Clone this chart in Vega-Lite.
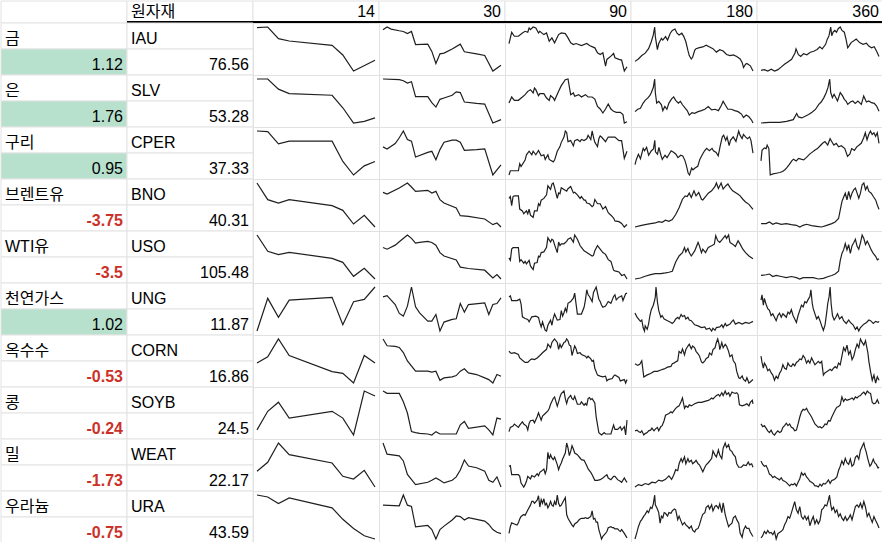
{
  "$schema": "https://vega.github.io/schema/vega-lite/v6.json",
  "padding": 0,
  "spacing": 0,
  "bounds": "flush",
  "config": {
    "view": {"stroke": "#e2e2e2"},
    "font": "Liberation Sans, Noto Sans CJK KR, sans-serif",
    "text": {"font": "Liberation Sans, Noto Sans CJK KR, sans-serif", "fontSize": 16}
  },
  "datasets": {
    "header": [
      {"col": "A", "label": ""},
      {"col": "B", "label": "원자재"},
      {"col": "14", "label": "14"},
      {"col": "30", "label": "30"},
      {"col": "90", "label": "90"},
      {"col": "180", "label": "180"},
      {"col": "360", "label": "360"}
    ],
    "table": [
      {"r": 1, "kind": "label", "A": "금", "B": "IAU"},
      {"r": 2, "kind": "value", "A": "1.12", "B": "76.56", "chg": 1.12},
      {"r": 3, "kind": "label", "A": "은", "B": "SLV"},
      {"r": 4, "kind": "value", "A": "1.76", "B": "53.28", "chg": 1.76},
      {"r": 5, "kind": "label", "A": "구리", "B": "CPER"},
      {"r": 6, "kind": "value", "A": "0.95", "B": "37.33", "chg": 0.95},
      {"r": 7, "kind": "label", "A": "브렌트유", "B": "BNO"},
      {"r": 8, "kind": "value", "A": "-3.75", "B": "40.31", "chg": -3.75},
      {"r": 9, "kind": "label", "A": "WTI유", "B": "USO"},
      {"r": 10, "kind": "value", "A": "-3.5", "B": "105.48", "chg": -3.5},
      {"r": 11, "kind": "label", "A": "천연가스", "B": "UNG"},
      {"r": 12, "kind": "value", "A": "1.02", "B": "11.87", "chg": 1.02},
      {"r": 13, "kind": "label", "A": "옥수수", "B": "CORN"},
      {"r": 14, "kind": "value", "A": "-0.53", "B": "16.86", "chg": -0.53},
      {"r": 15, "kind": "label", "A": "콩", "B": "SOYB"},
      {"r": 16, "kind": "value", "A": "-0.24", "B": "24.5", "chg": -0.24},
      {"r": 17, "kind": "label", "A": "밀", "B": "WEAT"},
      {"r": 18, "kind": "value", "A": "-1.73", "B": "22.17", "chg": -1.73},
      {"r": 19, "kind": "label", "A": "우라늄", "B": "URA"},
      {"r": 20, "kind": "value", "A": "-0.75", "B": "43.59", "chg": -0.75}
    ],
    "spark": [
      {"c":"IAU","p":14,"t":0,"v":135},{"c":"IAU","p":14,"t":1,"v":137},{"c":"IAU","p":14,"t":2,"v":102},{"c":"IAU","p":14,"t":3,"v":95},{"c":"IAU","p":14,"t":7,"v":82},{"c":"IAU","p":14,"t":8,"v":53},{"c":"IAU","p":14,"t":9,"v":5},{"c":"IAU","p":14,"t":11,"v":37},
      {"c":"IAU","p":30,"t":0,"v":128},{"c":"IAU","p":30,"t":1,"v":136},{"c":"IAU","p":30,"t":2,"v":130},{"c":"IAU","p":30,"t":4,"v":125},{"c":"IAU","p":30,"t":5,"v":123},{"c":"IAU","p":30,"t":6,"v":117},{"c":"IAU","p":30,"t":7,"v":123},{"c":"IAU","p":30,"t":8,"v":85},{"c":"IAU","p":30,"t":11,"v":86},{"c":"IAU","p":30,"t":12,"v":65},{"c":"IAU","p":30,"t":13,"v":30},{"c":"IAU","p":30,"t":14,"v":58},{"c":"IAU","p":30,"t":15,"v":60},{"c":"IAU","p":30,"t":17,"v":72},{"c":"IAU","p":30,"t":19,"v":86},{"c":"IAU","p":30,"t":20,"v":64},{"c":"IAU","p":30,"t":23,"v":58},{"c":"IAU","p":30,"t":25,"v":53},{"c":"IAU","p":30,"t":27,"v":8},{"c":"IAU","p":30,"t":29,"v":25},
      {"c":"IAU","p":90,"t":0,"v":88},{"c":"IAU","p":90,"t":2,"v":122},{"c":"IAU","p":90,"t":4,"v":110},{"c":"IAU","p":90,"t":7,"v":110},{"c":"IAU","p":90,"t":10,"v":120},{"c":"IAU","p":90,"t":12,"v":125},{"c":"IAU","p":90,"t":14,"v":122},{"c":"IAU","p":90,"t":15,"v":135},{"c":"IAU","p":90,"t":16,"v":130},{"c":"IAU","p":90,"t":18,"v":138},{"c":"IAU","p":90,"t":20,"v":135},{"c":"IAU","p":90,"t":22,"v":120},{"c":"IAU","p":90,"t":23,"v":125},{"c":"IAU","p":90,"t":26,"v":115},{"c":"IAU","p":90,"t":28,"v":120},{"c":"IAU","p":90,"t":30,"v":95},{"c":"IAU","p":90,"t":32,"v":105},{"c":"IAU","p":90,"t":34,"v":90},{"c":"IAU","p":90,"t":37,"v":115},{"c":"IAU","p":90,"t":39,"v":120},{"c":"IAU","p":90,"t":42,"v":118},{"c":"IAU","p":90,"t":44,"v":105},{"c":"IAU","p":90,"t":46,"v":90},{"c":"IAU","p":90,"t":48,"v":85},{"c":"IAU","p":90,"t":50,"v":88},{"c":"IAU","p":90,"t":54,"v":82},{"c":"IAU","p":90,"t":58,"v":88},{"c":"IAU","p":90,"t":60,"v":82},{"c":"IAU","p":90,"t":64,"v":75},{"c":"IAU","p":90,"t":66,"v":60},{"c":"IAU","p":90,"t":68,"v":55},{"c":"IAU","p":90,"t":70,"v":60},{"c":"IAU","p":90,"t":72,"v":20},{"c":"IAU","p":90,"t":73,"v":40},{"c":"IAU","p":90,"t":76,"v":50},{"c":"IAU","p":90,"t":78,"v":58},{"c":"IAU","p":90,"t":79,"v":45},{"c":"IAU","p":90,"t":82,"v":40},{"c":"IAU","p":90,"t":84,"v":38},{"c":"IAU","p":90,"t":86,"v":5},{"c":"IAU","p":90,"t":88,"v":18},
      {"c":"IAU","p":180,"t":0,"v":38},{"c":"IAU","p":180,"t":5,"v":45},{"c":"IAU","p":180,"t":10,"v":55},{"c":"IAU","p":180,"t":15,"v":62},{"c":"IAU","p":180,"t":20,"v":75},{"c":"IAU","p":180,"t":24,"v":95},{"c":"IAU","p":180,"t":27,"v":115},{"c":"IAU","p":180,"t":29,"v":138},{"c":"IAU","p":180,"t":30,"v":110},{"c":"IAU","p":180,"t":33,"v":72},{"c":"IAU","p":180,"t":35,"v":90},{"c":"IAU","p":180,"t":39,"v":105},{"c":"IAU","p":180,"t":41,"v":100},{"c":"IAU","p":180,"t":45,"v":110},{"c":"IAU","p":180,"t":48,"v":100},{"c":"IAU","p":180,"t":52,"v":120},{"c":"IAU","p":180,"t":55,"v":128},{"c":"IAU","p":180,"t":59,"v":132},{"c":"IAU","p":180,"t":62,"v":120},{"c":"IAU","p":180,"t":65,"v":115},{"c":"IAU","p":180,"t":69,"v":120},{"c":"IAU","p":180,"t":72,"v":110},{"c":"IAU","p":180,"t":75,"v":95},{"c":"IAU","p":180,"t":78,"v":70},{"c":"IAU","p":180,"t":80,"v":55},{"c":"IAU","p":180,"t":83,"v":45},{"c":"IAU","p":180,"t":85,"v":50},{"c":"IAU","p":180,"t":88,"v":70},{"c":"IAU","p":180,"t":90,"v":75},{"c":"IAU","p":180,"t":95,"v":78},{"c":"IAU","p":180,"t":100,"v":80},{"c":"IAU","p":180,"t":105,"v":85},{"c":"IAU","p":180,"t":110,"v":80},{"c":"IAU","p":180,"t":115,"v":75},{"c":"IAU","p":180,"t":120,"v":65},{"c":"IAU","p":180,"t":125,"v":72},{"c":"IAU","p":180,"t":130,"v":68},{"c":"IAU","p":180,"t":135,"v":58},{"c":"IAU","p":180,"t":140,"v":55},{"c":"IAU","p":180,"t":145,"v":57},{"c":"IAU","p":180,"t":150,"v":52},{"c":"IAU","p":180,"t":155,"v":45},{"c":"IAU","p":180,"t":158,"v":35},{"c":"IAU","p":180,"t":160,"v":20},{"c":"IAU","p":180,"t":163,"v":30},{"c":"IAU","p":180,"t":165,"v":32},{"c":"IAU","p":180,"t":170,"v":25},{"c":"IAU","p":180,"t":174,"v":10},
      {"c":"IAU","p":360,"t":0,"v":10},{"c":"IAU","p":360,"t":10,"v":12},{"c":"IAU","p":360,"t":20,"v":8},{"c":"IAU","p":360,"t":30,"v":13},{"c":"IAU","p":360,"t":40,"v":8},{"c":"IAU","p":360,"t":50,"v":12},{"c":"IAU","p":360,"t":60,"v":20},{"c":"IAU","p":360,"t":70,"v":28},{"c":"IAU","p":360,"t":80,"v":35},{"c":"IAU","p":360,"t":90,"v":42},{"c":"IAU","p":360,"t":100,"v":60},{"c":"IAU","p":360,"t":103,"v":72},{"c":"IAU","p":360,"t":110,"v":55},{"c":"IAU","p":360,"t":117,"v":50},{"c":"IAU","p":360,"t":125,"v":58},{"c":"IAU","p":360,"t":135,"v":55},{"c":"IAU","p":360,"t":145,"v":62},{"c":"IAU","p":360,"t":155,"v":65},{"c":"IAU","p":360,"t":165,"v":70},{"c":"IAU","p":360,"t":173,"v":78},{"c":"IAU","p":360,"t":180,"v":72},{"c":"IAU","p":360,"t":190,"v":85},{"c":"IAU","p":360,"t":195,"v":100},{"c":"IAU","p":360,"t":200,"v":110},{"c":"IAU","p":360,"t":205,"v":135},{"c":"IAU","p":360,"t":208,"v":110},{"c":"IAU","p":360,"t":212,"v":120},{"c":"IAU","p":360,"t":217,"v":125},{"c":"IAU","p":360,"t":222,"v":120},{"c":"IAU","p":360,"t":227,"v":130},{"c":"IAU","p":360,"t":233,"v":135},{"c":"IAU","p":360,"t":238,"v":125},{"c":"IAU","p":360,"t":245,"v":120},{"c":"IAU","p":360,"t":250,"v":100},{"c":"IAU","p":360,"t":255,"v":75},{"c":"IAU","p":360,"t":260,"v":82},{"c":"IAU","p":360,"t":265,"v":90},{"c":"IAU","p":360,"t":273,"v":95},{"c":"IAU","p":360,"t":280,"v":100},{"c":"IAU","p":360,"t":290,"v":90},{"c":"IAU","p":360,"t":300,"v":85},{"c":"IAU","p":360,"t":310,"v":88},{"c":"IAU","p":360,"t":317,"v":80},{"c":"IAU","p":360,"t":325,"v":75},{"c":"IAU","p":360,"t":333,"v":78},{"c":"IAU","p":360,"t":340,"v":65},{"c":"IAU","p":360,"t":347,"v":50},

      {"c":"SLV","p":14,"t":0,"v":136},{"c":"SLV","p":14,"t":1,"v":136},{"c":"SLV","p":14,"t":2,"v":106},{"c":"SLV","p":14,"t":3,"v":93},{"c":"SLV","p":14,"t":7,"v":88},{"c":"SLV","p":14,"t":8,"v":51},{"c":"SLV","p":14,"t":9,"v":6},{"c":"SLV","p":14,"t":10,"v":11},{"c":"SLV","p":14,"t":11,"v":21},
      {"c":"SLV","p":30,"t":0,"v":136},{"c":"SLV","p":30,"t":4,"v":134},{"c":"SLV","p":30,"t":5,"v":131},{"c":"SLV","p":30,"t":6,"v":124},{"c":"SLV","p":30,"t":7,"v":128},{"c":"SLV","p":30,"t":8,"v":84},{"c":"SLV","p":30,"t":11,"v":84},{"c":"SLV","p":30,"t":12,"v":66},{"c":"SLV","p":30,"t":13,"v":53},{"c":"SLV","p":30,"t":14,"v":76},{"c":"SLV","p":30,"t":15,"v":80},{"c":"SLV","p":30,"t":17,"v":88},{"c":"SLV","p":30,"t":18,"v":98},{"c":"SLV","p":30,"t":19,"v":96},{"c":"SLV","p":30,"t":20,"v":68},{"c":"SLV","p":30,"t":23,"v":64},{"c":"SLV","p":30,"t":25,"v":62},{"c":"SLV","p":30,"t":27,"v":6},{"c":"SLV","p":30,"t":29,"v":16},
      {"c":"SLV","p":90,"t":0,"v":66},{"c":"SLV","p":90,"t":2,"v":84},{"c":"SLV","p":90,"t":4,"v":74},{"c":"SLV","p":90,"t":7,"v":74},{"c":"SLV","p":90,"t":10,"v":84},{"c":"SLV","p":90,"t":12,"v":91},{"c":"SLV","p":90,"t":14,"v":101},{"c":"SLV","p":90,"t":16,"v":106},{"c":"SLV","p":90,"t":18,"v":96},{"c":"SLV","p":90,"t":19,"v":111},{"c":"SLV","p":90,"t":20,"v":106},{"c":"SLV","p":90,"t":22,"v":88},{"c":"SLV","p":90,"t":23,"v":94},{"c":"SLV","p":90,"t":26,"v":94},{"c":"SLV","p":90,"t":28,"v":81},{"c":"SLV","p":90,"t":30,"v":74},{"c":"SLV","p":90,"t":31,"v":88},{"c":"SLV","p":90,"t":33,"v":81},{"c":"SLV","p":90,"t":34,"v":74},{"c":"SLV","p":90,"t":37,"v":101},{"c":"SLV","p":90,"t":39,"v":118},{"c":"SLV","p":90,"t":42,"v":136},{"c":"SLV","p":90,"t":44,"v":138},{"c":"SLV","p":90,"t":46,"v":91},{"c":"SLV","p":90,"t":48,"v":96},{"c":"SLV","p":90,"t":49,"v":86},{"c":"SLV","p":90,"t":52,"v":91},{"c":"SLV","p":90,"t":54,"v":84},{"c":"SLV","p":90,"t":57,"v":91},{"c":"SLV","p":90,"t":59,"v":84},{"c":"SLV","p":90,"t":62,"v":84},{"c":"SLV","p":90,"t":64,"v":78},{"c":"SLV","p":90,"t":66,"v":56},{"c":"SLV","p":90,"t":68,"v":48},{"c":"SLV","p":90,"t":70,"v":36},{"c":"SLV","p":90,"t":72,"v":48},{"c":"SLV","p":90,"t":74,"v":63},{"c":"SLV","p":90,"t":76,"v":48},{"c":"SLV","p":90,"t":78,"v":41},{"c":"SLV","p":90,"t":80,"v":38},{"c":"SLV","p":90,"t":83,"v":38},{"c":"SLV","p":90,"t":85,"v":31},{"c":"SLV","p":90,"t":86,"v":6},{"c":"SLV","p":90,"t":88,"v":10},
      {"c":"SLV","p":180,"t":0,"v":41},{"c":"SLV","p":180,"t":4,"v":48},{"c":"SLV","p":180,"t":8,"v":51},{"c":"SLV","p":180,"t":12,"v":66},{"c":"SLV","p":180,"t":15,"v":74},{"c":"SLV","p":180,"t":19,"v":81},{"c":"SLV","p":180,"t":22,"v":88},{"c":"SLV","p":180,"t":24,"v":96},{"c":"SLV","p":180,"t":27,"v":111},{"c":"SLV","p":180,"t":29,"v":136},{"c":"SLV","p":180,"t":30,"v":96},{"c":"SLV","p":180,"t":32,"v":66},{"c":"SLV","p":180,"t":35,"v":71},{"c":"SLV","p":180,"t":39,"v":61},{"c":"SLV","p":180,"t":41,"v":44},{"c":"SLV","p":180,"t":44,"v":56},{"c":"SLV","p":180,"t":47,"v":48},{"c":"SLV","p":180,"t":50,"v":66},{"c":"SLV","p":180,"t":54,"v":78},{"c":"SLV","p":180,"t":57,"v":84},{"c":"SLV","p":180,"t":60,"v":74},{"c":"SLV","p":180,"t":64,"v":66},{"c":"SLV","p":180,"t":67,"v":71},{"c":"SLV","p":180,"t":70,"v":61},{"c":"SLV","p":180,"t":74,"v":51},{"c":"SLV","p":180,"t":77,"v":44},{"c":"SLV","p":180,"t":80,"v":31},{"c":"SLV","p":180,"t":84,"v":38},{"c":"SLV","p":180,"t":88,"v":36},{"c":"SLV","p":180,"t":93,"v":41},{"c":"SLV","p":180,"t":98,"v":44},{"c":"SLV","p":180,"t":103,"v":48},{"c":"SLV","p":180,"t":108,"v":56},{"c":"SLV","p":180,"t":113,"v":46},{"c":"SLV","p":180,"t":118,"v":48},{"c":"SLV","p":180,"t":123,"v":44},{"c":"SLV","p":180,"t":127,"v":58},{"c":"SLV","p":180,"t":130,"v":71},{"c":"SLV","p":180,"t":133,"v":61},{"c":"SLV","p":180,"t":137,"v":48},{"c":"SLV","p":180,"t":142,"v":48},{"c":"SLV","p":180,"t":147,"v":44},{"c":"SLV","p":180,"t":152,"v":41},{"c":"SLV","p":180,"t":157,"v":34},{"c":"SLV","p":180,"t":160,"v":24},{"c":"SLV","p":180,"t":164,"v":31},{"c":"SLV","p":180,"t":168,"v":26},{"c":"SLV","p":180,"t":172,"v":16},{"c":"SLV","p":180,"t":174,"v":8},
      {"c":"SLV","p":360,"t":0,"v":6},{"c":"SLV","p":360,"t":25,"v":8},{"c":"SLV","p":360,"t":55,"v":8},{"c":"SLV","p":360,"t":75,"v":11},{"c":"SLV","p":360,"t":95,"v":16},{"c":"SLV","p":360,"t":105,"v":34},{"c":"SLV","p":360,"t":110,"v":24},{"c":"SLV","p":360,"t":120,"v":21},{"c":"SLV","p":360,"t":130,"v":26},{"c":"SLV","p":360,"t":140,"v":31},{"c":"SLV","p":360,"t":150,"v":38},{"c":"SLV","p":360,"t":160,"v":46},{"c":"SLV","p":360,"t":170,"v":61},{"c":"SLV","p":360,"t":177,"v":68},{"c":"SLV","p":360,"t":185,"v":81},{"c":"SLV","p":360,"t":192,"v":96},{"c":"SLV","p":360,"t":197,"v":111},{"c":"SLV","p":360,"t":202,"v":136},{"c":"SLV","p":360,"t":205,"v":96},{"c":"SLV","p":360,"t":210,"v":81},{"c":"SLV","p":360,"t":215,"v":91},{"c":"SLV","p":360,"t":225,"v":71},{"c":"SLV","p":360,"t":233,"v":96},{"c":"SLV","p":360,"t":240,"v":86},{"c":"SLV","p":360,"t":245,"v":76},{"c":"SLV","p":360,"t":250,"v":71},{"c":"SLV","p":360,"t":255,"v":61},{"c":"SLV","p":360,"t":263,"v":68},{"c":"SLV","p":360,"t":270,"v":71},{"c":"SLV","p":360,"t":277,"v":64},{"c":"SLV","p":360,"t":285,"v":71},{"c":"SLV","p":360,"t":295,"v":61},{"c":"SLV","p":360,"t":302,"v":86},{"c":"SLV","p":360,"t":310,"v":68},{"c":"SLV","p":360,"t":317,"v":71},{"c":"SLV","p":360,"t":325,"v":66},{"c":"SLV","p":360,"t":333,"v":64},{"c":"SLV","p":360,"t":340,"v":56},{"c":"SLV","p":360,"t":347,"v":41},

      {"c":"CPER","p":14,"t":0,"v":137},{"c":"CPER","p":14,"t":1,"v":135},{"c":"CPER","p":14,"t":2,"v":99},{"c":"CPER","p":14,"t":3,"v":107},{"c":"CPER","p":14,"t":7,"v":107},{"c":"CPER","p":14,"t":8,"v":47},{"c":"CPER","p":14,"t":9,"v":7},{"c":"CPER","p":14,"t":10,"v":34},{"c":"CPER","p":14,"t":11,"v":47},
      {"c":"CPER","p":30,"t":0,"v":90},{"c":"CPER","p":30,"t":1,"v":84},{"c":"CPER","p":30,"t":3,"v":100},{"c":"CPER","p":30,"t":4,"v":117},{"c":"CPER","p":30,"t":5,"v":137},{"c":"CPER","p":30,"t":6,"v":112},{"c":"CPER","p":30,"t":7,"v":107},{"c":"CPER","p":30,"t":8,"v":60},{"c":"CPER","p":30,"t":11,"v":74},{"c":"CPER","p":30,"t":12,"v":77},{"c":"CPER","p":30,"t":13,"v":52},{"c":"CPER","p":30,"t":14,"v":82},{"c":"CPER","p":30,"t":15,"v":104},{"c":"CPER","p":30,"t":17,"v":110},{"c":"CPER","p":30,"t":18,"v":110},{"c":"CPER","p":30,"t":19,"v":104},{"c":"CPER","p":30,"t":20,"v":80},{"c":"CPER","p":30,"t":23,"v":82},{"c":"CPER","p":30,"t":25,"v":84},{"c":"CPER","p":30,"t":27,"v":7},{"c":"CPER","p":30,"t":29,"v":37},
      {"c":"CPER","p":90,"t":0,"v":10},{"c":"CPER","p":90,"t":1,"v":22},{"c":"CPER","p":90,"t":7,"v":22},{"c":"CPER","p":90,"t":8,"v":42},{"c":"CPER","p":90,"t":9,"v":34},{"c":"CPER","p":90,"t":12,"v":52},{"c":"CPER","p":90,"t":13,"v":67},{"c":"CPER","p":90,"t":15,"v":77},{"c":"CPER","p":90,"t":17,"v":67},{"c":"CPER","p":90,"t":18,"v":77},{"c":"CPER","p":90,"t":19,"v":72},{"c":"CPER","p":90,"t":20,"v":67},{"c":"CPER","p":90,"t":22,"v":79},{"c":"CPER","p":90,"t":24,"v":64},{"c":"CPER","p":90,"t":26,"v":67},{"c":"CPER","p":90,"t":27,"v":54},{"c":"CPER","p":90,"t":29,"v":67},{"c":"CPER","p":90,"t":30,"v":54},{"c":"CPER","p":90,"t":33,"v":47},{"c":"CPER","p":90,"t":34,"v":52},{"c":"CPER","p":90,"t":36,"v":77},{"c":"CPER","p":90,"t":38,"v":90},{"c":"CPER","p":90,"t":39,"v":102},{"c":"CPER","p":90,"t":41,"v":117},{"c":"CPER","p":90,"t":42,"v":134},{"c":"CPER","p":90,"t":43,"v":130},{"c":"CPER","p":90,"t":44,"v":104},{"c":"CPER","p":90,"t":46,"v":107},{"c":"CPER","p":90,"t":48,"v":92},{"c":"CPER","p":90,"t":49,"v":107},{"c":"CPER","p":90,"t":51,"v":110},{"c":"CPER","p":90,"t":53,"v":104},{"c":"CPER","p":90,"t":54,"v":110},{"c":"CPER","p":90,"t":56,"v":107},{"c":"CPER","p":90,"t":58,"v":112},{"c":"CPER","p":90,"t":59,"v":122},{"c":"CPER","p":90,"t":61,"v":110},{"c":"CPER","p":90,"t":62,"v":134},{"c":"CPER","p":90,"t":63,"v":117},{"c":"CPER","p":90,"t":64,"v":102},{"c":"CPER","p":90,"t":66,"v":90},{"c":"CPER","p":90,"t":67,"v":112},{"c":"CPER","p":90,"t":68,"v":120},{"c":"CPER","p":90,"t":69,"v":117},{"c":"CPER","p":90,"t":72,"v":104},{"c":"CPER","p":90,"t":74,"v":117},{"c":"CPER","p":90,"t":77,"v":117},{"c":"CPER","p":90,"t":79,"v":117},{"c":"CPER","p":90,"t":82,"v":107},{"c":"CPER","p":90,"t":84,"v":107},{"c":"CPER","p":90,"t":86,"v":57},{"c":"CPER","p":90,"t":88,"v":77},
      {"c":"CPER","p":180,"t":0,"v":37},{"c":"CPER","p":180,"t":2,"v":52},{"c":"CPER","p":180,"t":5,"v":67},{"c":"CPER","p":180,"t":8,"v":54},{"c":"CPER","p":180,"t":12,"v":84},{"c":"CPER","p":180,"t":14,"v":77},{"c":"CPER","p":180,"t":17,"v":87},{"c":"CPER","p":180,"t":20,"v":64},{"c":"CPER","p":180,"t":24,"v":77},{"c":"CPER","p":180,"t":27,"v":82},{"c":"CPER","p":180,"t":29,"v":107},{"c":"CPER","p":180,"t":30,"v":74},{"c":"CPER","p":180,"t":33,"v":67},{"c":"CPER","p":180,"t":35,"v":87},{"c":"CPER","p":180,"t":38,"v":64},{"c":"CPER","p":180,"t":40,"v":52},{"c":"CPER","p":180,"t":44,"v":64},{"c":"CPER","p":180,"t":47,"v":57},{"c":"CPER","p":180,"t":50,"v":67},{"c":"CPER","p":180,"t":53,"v":77},{"c":"CPER","p":180,"t":57,"v":72},{"c":"CPER","p":180,"t":60,"v":67},{"c":"CPER","p":180,"t":63,"v":57},{"c":"CPER","p":180,"t":67,"v":64},{"c":"CPER","p":180,"t":70,"v":62},{"c":"CPER","p":180,"t":73,"v":50},{"c":"CPER","p":180,"t":75,"v":37},{"c":"CPER","p":180,"t":78,"v":12},{"c":"CPER","p":180,"t":80,"v":7},{"c":"CPER","p":180,"t":83,"v":27},{"c":"CPER","p":180,"t":85,"v":22},{"c":"CPER","p":180,"t":88,"v":27},{"c":"CPER","p":180,"t":92,"v":32},{"c":"CPER","p":180,"t":95,"v":52},{"c":"CPER","p":180,"t":99,"v":67},{"c":"CPER","p":180,"t":102,"v":77},{"c":"CPER","p":180,"t":105,"v":84},{"c":"CPER","p":180,"t":109,"v":77},{"c":"CPER","p":180,"t":113,"v":84},{"c":"CPER","p":180,"t":115,"v":77},{"c":"CPER","p":180,"t":119,"v":72},{"c":"CPER","p":180,"t":122,"v":62},{"c":"CPER","p":180,"t":125,"v":92},{"c":"CPER","p":180,"t":128,"v":117},{"c":"CPER","p":180,"t":130,"v":122},{"c":"CPER","p":180,"t":133,"v":107},{"c":"CPER","p":180,"t":135,"v":117},{"c":"CPER","p":180,"t":138,"v":92},{"c":"CPER","p":180,"t":140,"v":107},{"c":"CPER","p":180,"t":144,"v":117},{"c":"CPER","p":180,"t":148,"v":104},{"c":"CPER","p":180,"t":152,"v":134},{"c":"CPER","p":180,"t":154,"v":122},{"c":"CPER","p":180,"t":157,"v":112},{"c":"CPER","p":180,"t":159,"v":124},{"c":"CPER","p":180,"t":162,"v":117},{"c":"CPER","p":180,"t":165,"v":112},{"c":"CPER","p":180,"t":168,"v":117},{"c":"CPER","p":180,"t":170,"v":107},{"c":"CPER","p":180,"t":173,"v":70},
      {"c":"CPER","p":360,"t":0,"v":47},{"c":"CPER","p":360,"t":3,"v":77},{"c":"CPER","p":360,"t":10,"v":84},{"c":"CPER","p":360,"t":15,"v":82},{"c":"CPER","p":360,"t":18,"v":92},{"c":"CPER","p":360,"t":23,"v":82},{"c":"CPER","p":360,"t":27,"v":7},{"c":"CPER","p":360,"t":35,"v":10},{"c":"CPER","p":360,"t":45,"v":12},{"c":"CPER","p":360,"t":55,"v":14},{"c":"CPER","p":360,"t":63,"v":17},{"c":"CPER","p":360,"t":70,"v":22},{"c":"CPER","p":360,"t":75,"v":27},{"c":"CPER","p":360,"t":83,"v":37},{"c":"CPER","p":360,"t":90,"v":47},{"c":"CPER","p":360,"t":95,"v":52},{"c":"CPER","p":360,"t":103,"v":47},{"c":"CPER","p":360,"t":110,"v":54},{"c":"CPER","p":360,"t":117,"v":52},{"c":"CPER","p":360,"t":125,"v":50},{"c":"CPER","p":360,"t":133,"v":57},{"c":"CPER","p":360,"t":143,"v":67},{"c":"CPER","p":360,"t":150,"v":72},{"c":"CPER","p":360,"t":157,"v":77},{"c":"CPER","p":360,"t":165,"v":82},{"c":"CPER","p":360,"t":173,"v":90},{"c":"CPER","p":360,"t":180,"v":97},{"c":"CPER","p":360,"t":187,"v":102},{"c":"CPER","p":360,"t":195,"v":92},{"c":"CPER","p":360,"t":202,"v":110},{"c":"CPER","p":360,"t":208,"v":100},{"c":"CPER","p":360,"t":213,"v":92},{"c":"CPER","p":360,"t":220,"v":97},{"c":"CPER","p":360,"t":227,"v":87},{"c":"CPER","p":360,"t":235,"v":90},{"c":"CPER","p":360,"t":245,"v":82},{"c":"CPER","p":360,"t":253,"v":60},{"c":"CPER","p":360,"t":260,"v":67},{"c":"CPER","p":360,"t":265,"v":82},{"c":"CPER","p":360,"t":273,"v":77},{"c":"CPER","p":360,"t":280,"v":87},{"c":"CPER","p":360,"t":287,"v":92},{"c":"CPER","p":360,"t":293,"v":97},{"c":"CPER","p":360,"t":300,"v":112},{"c":"CPER","p":360,"t":305,"v":127},{"c":"CPER","p":360,"t":310,"v":107},{"c":"CPER","p":360,"t":315,"v":122},{"c":"CPER","p":360,"t":320,"v":132},{"c":"CPER","p":360,"t":325,"v":122},{"c":"CPER","p":360,"t":330,"v":127},{"c":"CPER","p":360,"t":335,"v":117},{"c":"CPER","p":360,"t":340,"v":127},{"c":"CPER","p":360,"t":345,"v":97},

      {"c":"BNO","p":14,"t":0,"v":138},{"c":"BNO","p":14,"t":1,"v":88},{"c":"BNO","p":14,"t":2,"v":78},{"c":"BNO","p":14,"t":3,"v":88},{"c":"BNO","p":14,"t":7,"v":70},{"c":"BNO","p":14,"t":8,"v":56},{"c":"BNO","p":14,"t":9,"v":15},{"c":"BNO","p":14,"t":10,"v":41},{"c":"BNO","p":14,"t":11,"v":6},
      {"c":"BNO","p":30,"t":0,"v":110},{"c":"BNO","p":30,"t":1,"v":105},{"c":"BNO","p":30,"t":4,"v":123},{"c":"BNO","p":30,"t":6,"v":138},{"c":"BNO","p":30,"t":7,"v":126},{"c":"BNO","p":30,"t":8,"v":113},{"c":"BNO","p":30,"t":11,"v":116},{"c":"BNO","p":30,"t":12,"v":108},{"c":"BNO","p":30,"t":13,"v":113},{"c":"BNO","p":30,"t":14,"v":88},{"c":"BNO","p":30,"t":15,"v":78},{"c":"BNO","p":30,"t":18,"v":63},{"c":"BNO","p":30,"t":19,"v":40},{"c":"BNO","p":30,"t":21,"v":38},{"c":"BNO","p":30,"t":25,"v":30},{"c":"BNO","p":30,"t":27,"v":13},{"c":"BNO","p":30,"t":28,"v":18},{"c":"BNO","p":30,"t":29,"v":6},
      {"c":"BNO","p":90,"t":0,"v":93},{"c":"BNO","p":90,"t":1,"v":98},{"c":"BNO","p":90,"t":2,"v":73},{"c":"BNO","p":90,"t":3,"v":98},{"c":"BNO","p":90,"t":4,"v":100},{"c":"BNO","p":90,"t":7,"v":100},{"c":"BNO","p":90,"t":8,"v":63},{"c":"BNO","p":90,"t":10,"v":58},{"c":"BNO","p":90,"t":11,"v":50},{"c":"BNO","p":90,"t":13,"v":58},{"c":"BNO","p":90,"t":14,"v":50},{"c":"BNO","p":90,"t":15,"v":63},{"c":"BNO","p":90,"t":16,"v":46},{"c":"BNO","p":90,"t":18,"v":40},{"c":"BNO","p":90,"t":19,"v":58},{"c":"BNO","p":90,"t":21,"v":58},{"c":"BNO","p":90,"t":22,"v":78},{"c":"BNO","p":90,"t":23,"v":73},{"c":"BNO","p":90,"t":24,"v":88},{"c":"BNO","p":90,"t":26,"v":93},{"c":"BNO","p":90,"t":28,"v":103},{"c":"BNO","p":90,"t":29,"v":128},{"c":"BNO","p":90,"t":31,"v":118},{"c":"BNO","p":90,"t":32,"v":133},{"c":"BNO","p":90,"t":33,"v":136},{"c":"BNO","p":90,"t":34,"v":123},{"c":"BNO","p":90,"t":36,"v":93},{"c":"BNO","p":90,"t":37,"v":108},{"c":"BNO","p":90,"t":38,"v":106},{"c":"BNO","p":90,"t":39,"v":123},{"c":"BNO","p":90,"t":41,"v":118},{"c":"BNO","p":90,"t":43,"v":113},{"c":"BNO","p":90,"t":44,"v":120},{"c":"BNO","p":90,"t":46,"v":126},{"c":"BNO","p":90,"t":48,"v":108},{"c":"BNO","p":90,"t":49,"v":110},{"c":"BNO","p":90,"t":51,"v":103},{"c":"BNO","p":90,"t":53,"v":93},{"c":"BNO","p":90,"t":54,"v":98},{"c":"BNO","p":90,"t":56,"v":88},{"c":"BNO","p":90,"t":57,"v":88},{"c":"BNO","p":90,"t":58,"v":80},{"c":"BNO","p":90,"t":60,"v":78},{"c":"BNO","p":90,"t":62,"v":70},{"c":"BNO","p":90,"t":63,"v":73},{"c":"BNO","p":90,"t":64,"v":90},{"c":"BNO","p":90,"t":66,"v":78},{"c":"BNO","p":90,"t":68,"v":78},{"c":"BNO","p":90,"t":70,"v":63},{"c":"BNO","p":90,"t":72,"v":70},{"c":"BNO","p":90,"t":74,"v":53},{"c":"BNO","p":90,"t":76,"v":46},{"c":"BNO","p":90,"t":78,"v":38},{"c":"BNO","p":90,"t":79,"v":30},{"c":"BNO","p":90,"t":82,"v":28},{"c":"BNO","p":90,"t":84,"v":23},{"c":"BNO","p":90,"t":86,"v":13},{"c":"BNO","p":90,"t":88,"v":20},
      {"c":"BNO","p":180,"t":0,"v":6},{"c":"BNO","p":180,"t":8,"v":10},{"c":"BNO","p":180,"t":15,"v":13},{"c":"BNO","p":180,"t":23,"v":16},{"c":"BNO","p":180,"t":30,"v":18},{"c":"BNO","p":180,"t":35,"v":22},{"c":"BNO","p":180,"t":40,"v":20},{"c":"BNO","p":180,"t":45,"v":26},{"c":"BNO","p":180,"t":50,"v":23},{"c":"BNO","p":180,"t":55,"v":28},{"c":"BNO","p":180,"t":60,"v":43},{"c":"BNO","p":180,"t":65,"v":63},{"c":"BNO","p":180,"t":70,"v":88},{"c":"BNO","p":180,"t":74,"v":98},{"c":"BNO","p":180,"t":77,"v":96},{"c":"BNO","p":180,"t":80,"v":106},{"c":"BNO","p":180,"t":83,"v":93},{"c":"BNO","p":180,"t":87,"v":113},{"c":"BNO","p":180,"t":90,"v":98},{"c":"BNO","p":180,"t":94,"v":108},{"c":"BNO","p":180,"t":98,"v":88},{"c":"BNO","p":180,"t":100,"v":86},{"c":"BNO","p":180,"t":104,"v":96},{"c":"BNO","p":180,"t":108,"v":106},{"c":"BNO","p":180,"t":113,"v":113},{"c":"BNO","p":180,"t":118,"v":126},{"c":"BNO","p":180,"t":120,"v":136},{"c":"BNO","p":180,"t":123,"v":120},{"c":"BNO","p":180,"t":127,"v":136},{"c":"BNO","p":180,"t":130,"v":118},{"c":"BNO","p":180,"t":134,"v":128},{"c":"BNO","p":180,"t":137,"v":133},{"c":"BNO","p":180,"t":140,"v":123},{"c":"BNO","p":180,"t":144,"v":113},{"c":"BNO","p":180,"t":148,"v":108},{"c":"BNO","p":180,"t":152,"v":103},{"c":"BNO","p":180,"t":155,"v":98},{"c":"BNO","p":180,"t":159,"v":88},{"c":"BNO","p":180,"t":163,"v":80},{"c":"BNO","p":180,"t":168,"v":73},{"c":"BNO","p":180,"t":174,"v":58},
      {"c":"BNO","p":360,"t":0,"v":18},{"c":"BNO","p":360,"t":15,"v":18},{"c":"BNO","p":360,"t":25,"v":23},{"c":"BNO","p":360,"t":35,"v":16},{"c":"BNO","p":360,"t":45,"v":20},{"c":"BNO","p":360,"t":60,"v":16},{"c":"BNO","p":360,"t":75,"v":18},{"c":"BNO","p":360,"t":90,"v":15},{"c":"BNO","p":360,"t":105,"v":13},{"c":"BNO","p":360,"t":115,"v":8},{"c":"BNO","p":360,"t":125,"v":13},{"c":"BNO","p":360,"t":135,"v":16},{"c":"BNO","p":360,"t":150,"v":12},{"c":"BNO","p":360,"t":165,"v":10},{"c":"BNO","p":360,"t":180,"v":8},{"c":"BNO","p":360,"t":195,"v":13},{"c":"BNO","p":360,"t":210,"v":18},{"c":"BNO","p":360,"t":220,"v":23},{"c":"BNO","p":360,"t":230,"v":33},{"c":"BNO","p":360,"t":235,"v":58},{"c":"BNO","p":360,"t":240,"v":83},{"c":"BNO","p":360,"t":245,"v":96},{"c":"BNO","p":360,"t":250,"v":108},{"c":"BNO","p":360,"t":255,"v":88},{"c":"BNO","p":360,"t":260,"v":113},{"c":"BNO","p":360,"t":265,"v":93},{"c":"BNO","p":360,"t":270,"v":108},{"c":"BNO","p":360,"t":275,"v":118},{"c":"BNO","p":360,"t":280,"v":123},{"c":"BNO","p":360,"t":285,"v":108},{"c":"BNO","p":360,"t":290,"v":93},{"c":"BNO","p":360,"t":295,"v":108},{"c":"BNO","p":360,"t":300,"v":133},{"c":"BNO","p":360,"t":305,"v":138},{"c":"BNO","p":360,"t":310,"v":118},{"c":"BNO","p":360,"t":315,"v":128},{"c":"BNO","p":360,"t":320,"v":113},{"c":"BNO","p":360,"t":327,"v":108},{"c":"BNO","p":360,"t":333,"v":98},{"c":"BNO","p":360,"t":340,"v":88},{"c":"BNO","p":360,"t":345,"v":73},{"c":"BNO","p":360,"t":350,"v":60},

      {"c":"USO","p":14,"t":0,"v":138},{"c":"USO","p":14,"t":1,"v":89},{"c":"USO","p":14,"t":2,"v":79},{"c":"USO","p":14,"t":3,"v":86},{"c":"USO","p":14,"t":7,"v":68},{"c":"USO","p":14,"t":8,"v":56},{"c":"USO","p":14,"t":9,"v":14},{"c":"USO","p":14,"t":10,"v":38},{"c":"USO","p":14,"t":11,"v":6},
      {"c":"USO","p":30,"t":0,"v":99},{"c":"USO","p":30,"t":1,"v":94},{"c":"USO","p":30,"t":3,"v":106},{"c":"USO","p":30,"t":4,"v":116},{"c":"USO","p":30,"t":6,"v":136},{"c":"USO","p":30,"t":7,"v":126},{"c":"USO","p":30,"t":8,"v":112},{"c":"USO","p":30,"t":9,"v":114},{"c":"USO","p":30,"t":11,"v":117},{"c":"USO","p":30,"t":12,"v":114},{"c":"USO","p":30,"t":13,"v":106},{"c":"USO","p":30,"t":14,"v":84},{"c":"USO","p":30,"t":15,"v":74},{"c":"USO","p":30,"t":18,"v":62},{"c":"USO","p":30,"t":19,"v":41},{"c":"USO","p":30,"t":21,"v":37},{"c":"USO","p":30,"t":25,"v":32},{"c":"USO","p":30,"t":27,"v":9},{"c":"USO","p":30,"t":28,"v":19},{"c":"USO","p":30,"t":29,"v":6},
      {"c":"USO","p":90,"t":0,"v":69},{"c":"USO","p":90,"t":1,"v":62},{"c":"USO","p":90,"t":2,"v":94},{"c":"USO","p":90,"t":3,"v":98},{"c":"USO","p":90,"t":7,"v":98},{"c":"USO","p":90,"t":8,"v":59},{"c":"USO","p":90,"t":9,"v":64},{"c":"USO","p":90,"t":11,"v":54},{"c":"USO","p":90,"t":12,"v":59},{"c":"USO","p":90,"t":13,"v":52},{"c":"USO","p":90,"t":15,"v":62},{"c":"USO","p":90,"t":16,"v":46},{"c":"USO","p":90,"t":18,"v":36},{"c":"USO","p":90,"t":19,"v":54},{"c":"USO","p":90,"t":21,"v":56},{"c":"USO","p":90,"t":22,"v":74},{"c":"USO","p":90,"t":23,"v":72},{"c":"USO","p":90,"t":24,"v":84},{"c":"USO","p":90,"t":26,"v":86},{"c":"USO","p":90,"t":28,"v":99},{"c":"USO","p":90,"t":29,"v":126},{"c":"USO","p":90,"t":31,"v":114},{"c":"USO","p":90,"t":32,"v":122},{"c":"USO","p":90,"t":33,"v":119},{"c":"USO","p":90,"t":34,"v":106},{"c":"USO","p":90,"t":36,"v":84},{"c":"USO","p":90,"t":37,"v":114},{"c":"USO","p":90,"t":38,"v":104},{"c":"USO","p":90,"t":39,"v":109},{"c":"USO","p":90,"t":41,"v":109},{"c":"USO","p":90,"t":43,"v":116},{"c":"USO","p":90,"t":44,"v":122},{"c":"USO","p":90,"t":46,"v":126},{"c":"USO","p":90,"t":48,"v":114},{"c":"USO","p":90,"t":49,"v":134},{"c":"USO","p":90,"t":51,"v":122},{"c":"USO","p":90,"t":53,"v":104},{"c":"USO","p":90,"t":54,"v":99},{"c":"USO","p":90,"t":56,"v":89},{"c":"USO","p":90,"t":58,"v":84},{"c":"USO","p":90,"t":60,"v":79},{"c":"USO","p":90,"t":62,"v":74},{"c":"USO","p":90,"t":63,"v":76},{"c":"USO","p":90,"t":64,"v":89},{"c":"USO","p":90,"t":66,"v":104},{"c":"USO","p":90,"t":68,"v":94},{"c":"USO","p":90,"t":70,"v":84},{"c":"USO","p":90,"t":72,"v":79},{"c":"USO","p":90,"t":74,"v":64},{"c":"USO","p":90,"t":76,"v":59},{"c":"USO","p":90,"t":78,"v":34},{"c":"USO","p":90,"t":79,"v":32},{"c":"USO","p":90,"t":82,"v":29},{"c":"USO","p":90,"t":84,"v":19},{"c":"USO","p":90,"t":86,"v":22},{"c":"USO","p":90,"t":88,"v":9},
      {"c":"USO","p":180,"t":0,"v":6},{"c":"USO","p":180,"t":8,"v":9},{"c":"USO","p":180,"t":15,"v":14},{"c":"USO","p":180,"t":23,"v":19},{"c":"USO","p":180,"t":30,"v":22},{"c":"USO","p":180,"t":38,"v":22},{"c":"USO","p":180,"t":45,"v":24},{"c":"USO","p":180,"t":50,"v":26},{"c":"USO","p":180,"t":55,"v":29},{"c":"USO","p":180,"t":60,"v":56},{"c":"USO","p":180,"t":65,"v":74},{"c":"USO","p":180,"t":70,"v":84},{"c":"USO","p":180,"t":73,"v":99},{"c":"USO","p":180,"t":75,"v":86},{"c":"USO","p":180,"t":78,"v":96},{"c":"USO","p":180,"t":80,"v":84},{"c":"USO","p":180,"t":83,"v":74},{"c":"USO","p":180,"t":88,"v":89},{"c":"USO","p":180,"t":93,"v":114},{"c":"USO","p":180,"t":95,"v":104},{"c":"USO","p":180,"t":98,"v":84},{"c":"USO","p":180,"t":100,"v":94},{"c":"USO","p":180,"t":104,"v":84},{"c":"USO","p":180,"t":108,"v":99},{"c":"USO","p":180,"t":113,"v":104},{"c":"USO","p":180,"t":117,"v":109},{"c":"USO","p":180,"t":119,"v":134},{"c":"USO","p":180,"t":122,"v":119},{"c":"USO","p":180,"t":125,"v":114},{"c":"USO","p":180,"t":129,"v":124},{"c":"USO","p":180,"t":133,"v":134},{"c":"USO","p":180,"t":135,"v":126},{"c":"USO","p":180,"t":138,"v":136},{"c":"USO","p":180,"t":140,"v":114},{"c":"USO","p":180,"t":144,"v":109},{"c":"USO","p":180,"t":148,"v":102},{"c":"USO","p":180,"t":152,"v":119},{"c":"USO","p":180,"t":155,"v":109},{"c":"USO","p":180,"t":159,"v":94},{"c":"USO","p":180,"t":163,"v":84},{"c":"USO","p":180,"t":168,"v":74},{"c":"USO","p":180,"t":174,"v":66},
      {"c":"USO","p":360,"t":0,"v":22},{"c":"USO","p":360,"t":15,"v":24},{"c":"USO","p":360,"t":25,"v":26},{"c":"USO","p":360,"t":35,"v":19},{"c":"USO","p":360,"t":45,"v":22},{"c":"USO","p":360,"t":60,"v":19},{"c":"USO","p":360,"t":75,"v":16},{"c":"USO","p":360,"t":90,"v":19},{"c":"USO","p":360,"t":105,"v":16},{"c":"USO","p":360,"t":115,"v":12},{"c":"USO","p":360,"t":125,"v":16},{"c":"USO","p":360,"t":140,"v":16},{"c":"USO","p":360,"t":155,"v":16},{"c":"USO","p":360,"t":170,"v":12},{"c":"USO","p":360,"t":185,"v":14},{"c":"USO","p":360,"t":200,"v":19},{"c":"USO","p":360,"t":210,"v":22},{"c":"USO","p":360,"t":220,"v":26},{"c":"USO","p":360,"t":230,"v":34},{"c":"USO","p":360,"t":235,"v":64},{"c":"USO","p":360,"t":240,"v":84},{"c":"USO","p":360,"t":245,"v":94},{"c":"USO","p":360,"t":250,"v":112},{"c":"USO","p":360,"t":255,"v":94},{"c":"USO","p":360,"t":260,"v":109},{"c":"USO","p":360,"t":265,"v":84},{"c":"USO","p":360,"t":270,"v":106},{"c":"USO","p":360,"t":275,"v":114},{"c":"USO","p":360,"t":280,"v":124},{"c":"USO","p":360,"t":285,"v":104},{"c":"USO","p":360,"t":290,"v":96},{"c":"USO","p":360,"t":295,"v":114},{"c":"USO","p":360,"t":300,"v":136},{"c":"USO","p":360,"t":305,"v":126},{"c":"USO","p":360,"t":310,"v":109},{"c":"USO","p":360,"t":315,"v":119},{"c":"USO","p":360,"t":320,"v":109},{"c":"USO","p":360,"t":327,"v":94},{"c":"USO","p":360,"t":333,"v":84},{"c":"USO","p":360,"t":340,"v":76},{"c":"USO","p":360,"t":345,"v":66},{"c":"USO","p":360,"t":350,"v":69},

      {"c":"UNG","p":14,"t":0,"v":10},{"c":"UNG","p":14,"t":1,"v":105},{"c":"UNG","p":14,"t":2,"v":50},{"c":"UNG","p":14,"t":3,"v":100},{"c":"UNG","p":14,"t":7,"v":108},{"c":"UNG","p":14,"t":8,"v":28},{"c":"UNG","p":14,"t":9,"v":95},{"c":"UNG","p":14,"t":10,"v":102},{"c":"UNG","p":14,"t":11,"v":138},
      {"c":"UNG","p":30,"t":0,"v":108},{"c":"UNG","p":30,"t":1,"v":112},{"c":"UNG","p":30,"t":3,"v":85},{"c":"UNG","p":30,"t":4,"v":58},{"c":"UNG","p":30,"t":5,"v":50},{"c":"UNG","p":30,"t":6,"v":80},{"c":"UNG","p":30,"t":7,"v":138},{"c":"UNG","p":30,"t":8,"v":78},{"c":"UNG","p":30,"t":9,"v":60},{"c":"UNG","p":30,"t":11,"v":35},{"c":"UNG","p":30,"t":12,"v":35},{"c":"UNG","p":30,"t":13,"v":55},{"c":"UNG","p":30,"t":14,"v":5},{"c":"UNG","p":30,"t":15,"v":32},{"c":"UNG","p":30,"t":17,"v":40},{"c":"UNG","p":30,"t":18,"v":42},{"c":"UNG","p":30,"t":19,"v":88},{"c":"UNG","p":30,"t":20,"v":62},{"c":"UNG","p":30,"t":21,"v":85},{"c":"UNG","p":30,"t":25,"v":90},{"c":"UNG","p":30,"t":26,"v":55},{"c":"UNG","p":30,"t":27,"v":85},{"c":"UNG","p":30,"t":28,"v":88},{"c":"UNG","p":30,"t":29,"v":105},
      {"c":"UNG","p":90,"t":0,"v":108},{"c":"UNG","p":90,"t":1,"v":112},{"c":"UNG","p":90,"t":2,"v":98},{"c":"UNG","p":90,"t":6,"v":98},{"c":"UNG","p":90,"t":8,"v":102},{"c":"UNG","p":90,"t":9,"v":88},{"c":"UNG","p":90,"t":10,"v":50},{"c":"UNG","p":90,"t":12,"v":45},{"c":"UNG","p":90,"t":14,"v":42},{"c":"UNG","p":90,"t":15,"v":35},{"c":"UNG","p":90,"t":17,"v":50},{"c":"UNG","p":90,"t":20,"v":52},{"c":"UNG","p":90,"t":22,"v":48},{"c":"UNG","p":90,"t":23,"v":32},{"c":"UNG","p":90,"t":24,"v":20},{"c":"UNG","p":90,"t":25,"v":35},{"c":"UNG","p":90,"t":26,"v":22},{"c":"UNG","p":90,"t":27,"v":10},{"c":"UNG","p":90,"t":28,"v":8},{"c":"UNG","p":90,"t":29,"v":25},{"c":"UNG","p":90,"t":31,"v":40},{"c":"UNG","p":90,"t":32,"v":25},{"c":"UNG","p":90,"t":33,"v":45},{"c":"UNG","p":90,"t":34,"v":58},{"c":"UNG","p":90,"t":36,"v":40},{"c":"UNG","p":90,"t":38,"v":42},{"c":"UNG","p":90,"t":39,"v":68},{"c":"UNG","p":90,"t":40,"v":52},{"c":"UNG","p":90,"t":41,"v":62},{"c":"UNG","p":90,"t":42,"v":75},{"c":"UNG","p":90,"t":43,"v":65},{"c":"UNG","p":90,"t":44,"v":90},{"c":"UNG","p":90,"t":46,"v":95},{"c":"UNG","p":90,"t":48,"v":105},{"c":"UNG","p":90,"t":49,"v":120},{"c":"UNG","p":90,"t":50,"v":88},{"c":"UNG","p":90,"t":51,"v":58},{"c":"UNG","p":90,"t":54,"v":58},{"c":"UNG","p":90,"t":56,"v":78},{"c":"UNG","p":90,"t":57,"v":100},{"c":"UNG","p":90,"t":58,"v":130},{"c":"UNG","p":90,"t":59,"v":115},{"c":"UNG","p":90,"t":60,"v":110},{"c":"UNG","p":90,"t":62,"v":95},{"c":"UNG","p":90,"t":63,"v":122},{"c":"UNG","p":90,"t":65,"v":138},{"c":"UNG","p":90,"t":67,"v":102},{"c":"UNG","p":90,"t":68,"v":95},{"c":"UNG","p":90,"t":69,"v":85},{"c":"UNG","p":90,"t":70,"v":78},{"c":"UNG","p":90,"t":72,"v":82},{"c":"UNG","p":90,"t":74,"v":95},{"c":"UNG","p":90,"t":76,"v":90},{"c":"UNG","p":90,"t":77,"v":100},{"c":"UNG","p":90,"t":78,"v":110},{"c":"UNG","p":90,"t":79,"v":115},{"c":"UNG","p":90,"t":80,"v":100},{"c":"UNG","p":90,"t":82,"v":108},{"c":"UNG","p":90,"t":84,"v":112},{"c":"UNG","p":90,"t":85,"v":98},{"c":"UNG","p":90,"t":87,"v":118},{"c":"UNG","p":90,"t":88,"v":120},
      {"c":"UNG","p":180,"t":0,"v":62},{"c":"UNG","p":180,"t":3,"v":50},{"c":"UNG","p":180,"t":8,"v":38},{"c":"UNG","p":180,"t":10,"v":42},{"c":"UNG","p":180,"t":12,"v":20},{"c":"UNG","p":180,"t":14,"v":10},{"c":"UNG","p":180,"t":15,"v":25},{"c":"UNG","p":180,"t":18,"v":15},{"c":"UNG","p":180,"t":20,"v":30},{"c":"UNG","p":180,"t":22,"v":55},{"c":"UNG","p":180,"t":24,"v":72},{"c":"UNG","p":180,"t":27,"v":85},{"c":"UNG","p":180,"t":29,"v":100},{"c":"UNG","p":180,"t":30,"v":110},{"c":"UNG","p":180,"t":31,"v":138},{"c":"UNG","p":180,"t":33,"v":95},{"c":"UNG","p":180,"t":35,"v":70},{"c":"UNG","p":180,"t":38,"v":50},{"c":"UNG","p":180,"t":40,"v":55},{"c":"UNG","p":180,"t":43,"v":45},{"c":"UNG","p":180,"t":48,"v":40},{"c":"UNG","p":180,"t":53,"v":35},{"c":"UNG","p":180,"t":55,"v":32},{"c":"UNG","p":180,"t":58,"v":38},{"c":"UNG","p":180,"t":60,"v":45},{"c":"UNG","p":180,"t":63,"v":50},{"c":"UNG","p":180,"t":65,"v":45},{"c":"UNG","p":180,"t":68,"v":58},{"c":"UNG","p":180,"t":70,"v":52},{"c":"UNG","p":180,"t":73,"v":55},{"c":"UNG","p":180,"t":75,"v":45},{"c":"UNG","p":180,"t":78,"v":50},{"c":"UNG","p":180,"t":80,"v":42},{"c":"UNG","p":180,"t":83,"v":40},{"c":"UNG","p":180,"t":88,"v":28},{"c":"UNG","p":180,"t":93,"v":25},{"c":"UNG","p":180,"t":98,"v":20},{"c":"UNG","p":180,"t":103,"v":22},{"c":"UNG","p":180,"t":105,"v":15},{"c":"UNG","p":180,"t":110,"v":18},{"c":"UNG","p":180,"t":113,"v":10},{"c":"UNG","p":180,"t":115,"v":18},{"c":"UNG","p":180,"t":118,"v":12},{"c":"UNG","p":180,"t":120,"v":20},{"c":"UNG","p":180,"t":125,"v":22},{"c":"UNG","p":180,"t":128,"v":28},{"c":"UNG","p":180,"t":130,"v":20},{"c":"UNG","p":180,"t":133,"v":32},{"c":"UNG","p":180,"t":135,"v":25},{"c":"UNG","p":180,"t":140,"v":30},{"c":"UNG","p":180,"t":143,"v":38},{"c":"UNG","p":180,"t":145,"v":42},{"c":"UNG","p":180,"t":148,"v":30},{"c":"UNG","p":180,"t":153,"v":35},{"c":"UNG","p":180,"t":158,"v":30},{"c":"UNG","p":180,"t":163,"v":35},{"c":"UNG","p":180,"t":168,"v":32},{"c":"UNG","p":180,"t":174,"v":38},
      {"c":"UNG","p":360,"t":0,"v":100},{"c":"UNG","p":360,"t":3,"v":115},{"c":"UNG","p":360,"t":7,"v":85},{"c":"UNG","p":360,"t":10,"v":105},{"c":"UNG","p":360,"t":15,"v":88},{"c":"UNG","p":360,"t":20,"v":75},{"c":"UNG","p":360,"t":25,"v":70},{"c":"UNG","p":360,"t":30,"v":55},{"c":"UNG","p":360,"t":35,"v":60},{"c":"UNG","p":360,"t":40,"v":50},{"c":"UNG","p":360,"t":45,"v":40},{"c":"UNG","p":360,"t":50,"v":55},{"c":"UNG","p":360,"t":55,"v":62},{"c":"UNG","p":360,"t":60,"v":50},{"c":"UNG","p":360,"t":65,"v":60},{"c":"UNG","p":360,"t":70,"v":55},{"c":"UNG","p":360,"t":75,"v":50},{"c":"UNG","p":360,"t":80,"v":65},{"c":"UNG","p":360,"t":85,"v":60},{"c":"UNG","p":360,"t":90,"v":72},{"c":"UNG","p":360,"t":95,"v":55},{"c":"UNG","p":360,"t":100,"v":45},{"c":"UNG","p":360,"t":105,"v":35},{"c":"UNG","p":360,"t":110,"v":55},{"c":"UNG","p":360,"t":115,"v":70},{"c":"UNG","p":360,"t":120,"v":85},{"c":"UNG","p":360,"t":125,"v":80},{"c":"UNG","p":360,"t":130,"v":95},{"c":"UNG","p":360,"t":135,"v":92},{"c":"UNG","p":360,"t":140,"v":102},{"c":"UNG","p":360,"t":145,"v":110},{"c":"UNG","p":360,"t":148,"v":130},{"c":"UNG","p":360,"t":152,"v":90},{"c":"UNG","p":360,"t":155,"v":75},{"c":"UNG","p":360,"t":160,"v":60},{"c":"UNG","p":360,"t":165,"v":45},{"c":"UNG","p":360,"t":170,"v":52},{"c":"UNG","p":360,"t":175,"v":40},{"c":"UNG","p":360,"t":180,"v":25},{"c":"UNG","p":360,"t":185,"v":12},{"c":"UNG","p":360,"t":190,"v":28},{"c":"UNG","p":360,"t":195,"v":65},{"c":"UNG","p":360,"t":198,"v":90},{"c":"UNG","p":360,"t":202,"v":110},{"c":"UNG","p":360,"t":205,"v":138},{"c":"UNG","p":360,"t":208,"v":90},{"c":"UNG","p":360,"t":212,"v":55},{"c":"UNG","p":360,"t":217,"v":42},{"c":"UNG","p":360,"t":222,"v":50},{"c":"UNG","p":360,"t":227,"v":60},{"c":"UNG","p":360,"t":233,"v":45},{"c":"UNG","p":360,"t":240,"v":52},{"c":"UNG","p":360,"t":245,"v":40},{"c":"UNG","p":360,"t":253,"v":32},{"c":"UNG","p":360,"t":260,"v":42},{"c":"UNG","p":360,"t":265,"v":35},{"c":"UNG","p":360,"t":273,"v":28},{"c":"UNG","p":360,"t":280,"v":15},{"c":"UNG","p":360,"t":285,"v":22},{"c":"UNG","p":360,"t":290,"v":10},{"c":"UNG","p":360,"t":295,"v":20},{"c":"UNG","p":360,"t":300,"v":25},{"c":"UNG","p":360,"t":305,"v":30},{"c":"UNG","p":360,"t":313,"v":35},{"c":"UNG","p":360,"t":320,"v":42},{"c":"UNG","p":360,"t":325,"v":40},{"c":"UNG","p":360,"t":333,"v":32},{"c":"UNG","p":360,"t":340,"v":38},{"c":"UNG","p":360,"t":347,"v":35},{"c":"UNG","p":360,"t":350,"v":38},

      {"c":"CORN","p":14,"t":0,"v":66},{"c":"CORN","p":14,"t":1,"v":84},{"c":"CORN","p":14,"t":2,"v":136},{"c":"CORN","p":14,"t":3,"v":88},{"c":"CORN","p":14,"t":7,"v":41},{"c":"CORN","p":14,"t":8,"v":36},{"c":"CORN","p":14,"t":9,"v":8},{"c":"CORN","p":14,"t":10,"v":88},{"c":"CORN","p":14,"t":11,"v":66},
      {"c":"CORN","p":30,"t":0,"v":136},{"c":"CORN","p":30,"t":1,"v":116},{"c":"CORN","p":30,"t":3,"v":114},{"c":"CORN","p":30,"t":4,"v":111},{"c":"CORN","p":30,"t":5,"v":96},{"c":"CORN","p":30,"t":6,"v":71},{"c":"CORN","p":30,"t":8,"v":41},{"c":"CORN","p":30,"t":11,"v":41},{"c":"CORN","p":30,"t":12,"v":38},{"c":"CORN","p":30,"t":13,"v":41},{"c":"CORN","p":30,"t":14,"v":14},{"c":"CORN","p":30,"t":15,"v":21},{"c":"CORN","p":30,"t":17,"v":24},{"c":"CORN","p":30,"t":18,"v":28},{"c":"CORN","p":30,"t":19,"v":41},{"c":"CORN","p":30,"t":20,"v":48},{"c":"CORN","p":30,"t":21,"v":36},{"c":"CORN","p":30,"t":23,"v":31},{"c":"CORN","p":30,"t":25,"v":21},{"c":"CORN","p":30,"t":26,"v":16},{"c":"CORN","p":30,"t":27,"v":6},{"c":"CORN","p":30,"t":28,"v":31},{"c":"CORN","p":30,"t":29,"v":26},
      {"c":"CORN","p":90,"t":0,"v":101},{"c":"CORN","p":90,"t":1,"v":96},{"c":"CORN","p":90,"t":2,"v":94},{"c":"CORN","p":90,"t":4,"v":96},{"c":"CORN","p":90,"t":7,"v":91},{"c":"CORN","p":90,"t":8,"v":81},{"c":"CORN","p":90,"t":10,"v":74},{"c":"CORN","p":90,"t":12,"v":68},{"c":"CORN","p":90,"t":14,"v":68},{"c":"CORN","p":90,"t":16,"v":76},{"c":"CORN","p":90,"t":17,"v":78},{"c":"CORN","p":90,"t":19,"v":76},{"c":"CORN","p":90,"t":21,"v":81},{"c":"CORN","p":90,"t":23,"v":88},{"c":"CORN","p":90,"t":25,"v":96},{"c":"CORN","p":90,"t":28,"v":106},{"c":"CORN","p":90,"t":29,"v":121},{"c":"CORN","p":90,"t":31,"v":111},{"c":"CORN","p":90,"t":32,"v":126},{"c":"CORN","p":90,"t":33,"v":131},{"c":"CORN","p":90,"t":34,"v":136},{"c":"CORN","p":90,"t":36,"v":126},{"c":"CORN","p":90,"t":37,"v":106},{"c":"CORN","p":90,"t":38,"v":121},{"c":"CORN","p":90,"t":39,"v":111},{"c":"CORN","p":90,"t":41,"v":126},{"c":"CORN","p":90,"t":42,"v":128},{"c":"CORN","p":90,"t":43,"v":136},{"c":"CORN","p":90,"t":44,"v":131},{"c":"CORN","p":90,"t":45,"v":118},{"c":"CORN","p":90,"t":46,"v":116},{"c":"CORN","p":90,"t":47,"v":88},{"c":"CORN","p":90,"t":49,"v":116},{"c":"CORN","p":90,"t":50,"v":108},{"c":"CORN","p":90,"t":51,"v":94},{"c":"CORN","p":90,"t":53,"v":96},{"c":"CORN","p":90,"t":54,"v":91},{"c":"CORN","p":90,"t":57,"v":86},{"c":"CORN","p":90,"t":58,"v":81},{"c":"CORN","p":90,"t":59,"v":86},{"c":"CORN","p":90,"t":61,"v":78},{"c":"CORN","p":90,"t":62,"v":71},{"c":"CORN","p":90,"t":63,"v":74},{"c":"CORN","p":90,"t":64,"v":51},{"c":"CORN","p":90,"t":66,"v":31},{"c":"CORN","p":90,"t":68,"v":28},{"c":"CORN","p":90,"t":70,"v":26},{"c":"CORN","p":90,"t":72,"v":28},{"c":"CORN","p":90,"t":73,"v":14},{"c":"CORN","p":90,"t":74,"v":18},{"c":"CORN","p":90,"t":77,"v":21},{"c":"CORN","p":90,"t":78,"v":28},{"c":"CORN","p":90,"t":79,"v":31},{"c":"CORN","p":90,"t":82,"v":24},{"c":"CORN","p":90,"t":83,"v":14},{"c":"CORN","p":90,"t":86,"v":18},{"c":"CORN","p":90,"t":87,"v":8},{"c":"CORN","p":90,"t":88,"v":18},
      {"c":"CORN","p":180,"t":0,"v":66},{"c":"CORN","p":180,"t":4,"v":61},{"c":"CORN","p":180,"t":7,"v":64},{"c":"CORN","p":180,"t":10,"v":74},{"c":"CORN","p":180,"t":13,"v":28},{"c":"CORN","p":180,"t":18,"v":34},{"c":"CORN","p":180,"t":23,"v":38},{"c":"CORN","p":180,"t":28,"v":44},{"c":"CORN","p":180,"t":33,"v":44},{"c":"CORN","p":180,"t":38,"v":48},{"c":"CORN","p":180,"t":43,"v":51},{"c":"CORN","p":180,"t":48,"v":56},{"c":"CORN","p":180,"t":53,"v":58},{"c":"CORN","p":180,"t":55,"v":66},{"c":"CORN","p":180,"t":58,"v":68},{"c":"CORN","p":180,"t":60,"v":71},{"c":"CORN","p":180,"t":63,"v":74},{"c":"CORN","p":180,"t":65,"v":101},{"c":"CORN","p":180,"t":68,"v":96},{"c":"CORN","p":180,"t":70,"v":108},{"c":"CORN","p":180,"t":73,"v":91},{"c":"CORN","p":180,"t":75,"v":106},{"c":"CORN","p":180,"t":78,"v":116},{"c":"CORN","p":180,"t":80,"v":121},{"c":"CORN","p":180,"t":83,"v":108},{"c":"CORN","p":180,"t":85,"v":116},{"c":"CORN","p":180,"t":88,"v":111},{"c":"CORN","p":180,"t":90,"v":101},{"c":"CORN","p":180,"t":93,"v":94},{"c":"CORN","p":180,"t":95,"v":88},{"c":"CORN","p":180,"t":98,"v":71},{"c":"CORN","p":180,"t":100,"v":68},{"c":"CORN","p":180,"t":103,"v":74},{"c":"CORN","p":180,"t":105,"v":81},{"c":"CORN","p":180,"t":108,"v":84},{"c":"CORN","p":180,"t":110,"v":96},{"c":"CORN","p":180,"t":113,"v":91},{"c":"CORN","p":180,"t":115,"v":106},{"c":"CORN","p":180,"t":118,"v":111},{"c":"CORN","p":180,"t":120,"v":126},{"c":"CORN","p":180,"t":122,"v":136},{"c":"CORN","p":180,"t":124,"v":121},{"c":"CORN","p":180,"t":125,"v":106},{"c":"CORN","p":180,"t":128,"v":126},{"c":"CORN","p":180,"t":130,"v":111},{"c":"CORN","p":180,"t":133,"v":121},{"c":"CORN","p":180,"t":135,"v":116},{"c":"CORN","p":180,"t":138,"v":101},{"c":"CORN","p":180,"t":140,"v":86},{"c":"CORN","p":180,"t":143,"v":91},{"c":"CORN","p":180,"t":145,"v":74},{"c":"CORN","p":180,"t":148,"v":66},{"c":"CORN","p":180,"t":150,"v":44},{"c":"CORN","p":180,"t":153,"v":26},{"c":"CORN","p":180,"t":155,"v":24},{"c":"CORN","p":180,"t":158,"v":31},{"c":"CORN","p":180,"t":160,"v":21},{"c":"CORN","p":180,"t":163,"v":16},{"c":"CORN","p":180,"t":165,"v":26},{"c":"CORN","p":180,"t":168,"v":11},{"c":"CORN","p":180,"t":170,"v":14},{"c":"CORN","p":180,"t":174,"v":21},
      {"c":"CORN","p":360,"t":0,"v":86},{"c":"CORN","p":360,"t":3,"v":68},{"c":"CORN","p":360,"t":7,"v":51},{"c":"CORN","p":360,"t":10,"v":66},{"c":"CORN","p":360,"t":15,"v":58},{"c":"CORN","p":360,"t":20,"v":44},{"c":"CORN","p":360,"t":25,"v":48},{"c":"CORN","p":360,"t":30,"v":38},{"c":"CORN","p":360,"t":35,"v":31},{"c":"CORN","p":360,"t":40,"v":16},{"c":"CORN","p":360,"t":45,"v":28},{"c":"CORN","p":360,"t":50,"v":21},{"c":"CORN","p":360,"t":55,"v":36},{"c":"CORN","p":360,"t":60,"v":44},{"c":"CORN","p":360,"t":65,"v":61},{"c":"CORN","p":360,"t":70,"v":51},{"c":"CORN","p":360,"t":75,"v":48},{"c":"CORN","p":360,"t":80,"v":66},{"c":"CORN","p":360,"t":85,"v":58},{"c":"CORN","p":360,"t":90,"v":56},{"c":"CORN","p":360,"t":95,"v":64},{"c":"CORN","p":360,"t":100,"v":58},{"c":"CORN","p":360,"t":105,"v":68},{"c":"CORN","p":360,"t":110,"v":71},{"c":"CORN","p":360,"t":115,"v":78},{"c":"CORN","p":360,"t":120,"v":76},{"c":"CORN","p":360,"t":125,"v":88},{"c":"CORN","p":360,"t":130,"v":81},{"c":"CORN","p":360,"t":135,"v":66},{"c":"CORN","p":360,"t":140,"v":74},{"c":"CORN","p":360,"t":145,"v":66},{"c":"CORN","p":360,"t":150,"v":81},{"c":"CORN","p":360,"t":155,"v":71},{"c":"CORN","p":360,"t":160,"v":61},{"c":"CORN","p":360,"t":165,"v":66},{"c":"CORN","p":360,"t":170,"v":71},{"c":"CORN","p":360,"t":175,"v":66},{"c":"CORN","p":360,"t":180,"v":71},{"c":"CORN","p":360,"t":185,"v":31},{"c":"CORN","p":360,"t":190,"v":38},{"c":"CORN","p":360,"t":195,"v":41},{"c":"CORN","p":360,"t":200,"v":44},{"c":"CORN","p":360,"t":205,"v":48},{"c":"CORN","p":360,"t":210,"v":44},{"c":"CORN","p":360,"t":215,"v":51},{"c":"CORN","p":360,"t":220,"v":56},{"c":"CORN","p":360,"t":225,"v":51},{"c":"CORN","p":360,"t":230,"v":66},{"c":"CORN","p":360,"t":235,"v":61},{"c":"CORN","p":360,"t":240,"v":86},{"c":"CORN","p":360,"t":245,"v":111},{"c":"CORN","p":360,"t":250,"v":101},{"c":"CORN","p":360,"t":255,"v":118},{"c":"CORN","p":360,"t":260,"v":91},{"c":"CORN","p":360,"t":265,"v":101},{"c":"CORN","p":360,"t":270,"v":76},{"c":"CORN","p":360,"t":275,"v":86},{"c":"CORN","p":360,"t":280,"v":106},{"c":"CORN","p":360,"t":285,"v":121},{"c":"CORN","p":360,"t":290,"v":111},{"c":"CORN","p":360,"t":295,"v":136},{"c":"CORN","p":360,"t":300,"v":126},{"c":"CORN","p":360,"t":305,"v":118},{"c":"CORN","p":360,"t":310,"v":131},{"c":"CORN","p":360,"t":315,"v":106},{"c":"CORN","p":360,"t":317,"v":96},{"c":"CORN","p":360,"t":320,"v":71},{"c":"CORN","p":360,"t":325,"v":41},{"c":"CORN","p":360,"t":330,"v":16},{"c":"CORN","p":360,"t":335,"v":31},{"c":"CORN","p":360,"t":340,"v":8},{"c":"CORN","p":360,"t":345,"v":26},{"c":"CORN","p":360,"t":350,"v":16},

      {"c":"SOYB","p":14,"t":0,"v":22},{"c":"SOYB","p":14,"t":1,"v":77},{"c":"SOYB","p":14,"t":2,"v":104},{"c":"SOYB","p":14,"t":3,"v":57},{"c":"SOYB","p":14,"t":7,"v":77},{"c":"SOYB","p":14,"t":8,"v":57},{"c":"SOYB","p":14,"t":9,"v":7},{"c":"SOYB","p":14,"t":10,"v":137},{"c":"SOYB","p":14,"t":11,"v":122},
      {"c":"SOYB","p":30,"t":0,"v":137},{"c":"SOYB","p":30,"t":1,"v":130},{"c":"SOYB","p":30,"t":4,"v":130},{"c":"SOYB","p":30,"t":5,"v":105},{"c":"SOYB","p":30,"t":6,"v":72},{"c":"SOYB","p":30,"t":7,"v":17},{"c":"SOYB","p":30,"t":8,"v":14},{"c":"SOYB","p":30,"t":9,"v":12},{"c":"SOYB","p":30,"t":11,"v":10},{"c":"SOYB","p":30,"t":12,"v":7},{"c":"SOYB","p":30,"t":13,"v":17},{"c":"SOYB","p":30,"t":14,"v":10},{"c":"SOYB","p":30,"t":15,"v":10},{"c":"SOYB","p":30,"t":18,"v":10},{"c":"SOYB","p":30,"t":19,"v":37},{"c":"SOYB","p":30,"t":20,"v":47},{"c":"SOYB","p":30,"t":21,"v":27},{"c":"SOYB","p":30,"t":25,"v":34},{"c":"SOYB","p":30,"t":26,"v":22},{"c":"SOYB","p":30,"t":27,"v":7},{"c":"SOYB","p":30,"t":28,"v":57},{"c":"SOYB","p":30,"t":29,"v":54},
      {"c":"SOYB","p":90,"t":0,"v":17},{"c":"SOYB","p":90,"t":1,"v":30},{"c":"SOYB","p":90,"t":3,"v":34},{"c":"SOYB","p":90,"t":4,"v":40},{"c":"SOYB","p":90,"t":7,"v":30},{"c":"SOYB","p":90,"t":8,"v":37},{"c":"SOYB","p":90,"t":10,"v":47},{"c":"SOYB","p":90,"t":11,"v":40},{"c":"SOYB","p":90,"t":13,"v":34},{"c":"SOYB","p":90,"t":14,"v":22},{"c":"SOYB","p":90,"t":15,"v":42},{"c":"SOYB","p":90,"t":16,"v":50},{"c":"SOYB","p":90,"t":18,"v":52},{"c":"SOYB","p":90,"t":19,"v":44},{"c":"SOYB","p":90,"t":21,"v":62},{"c":"SOYB","p":90,"t":22,"v":74},{"c":"SOYB","p":90,"t":24,"v":52},{"c":"SOYB","p":90,"t":25,"v":64},{"c":"SOYB","p":90,"t":27,"v":72},{"c":"SOYB","p":90,"t":29,"v":80},{"c":"SOYB","p":90,"t":30,"v":87},{"c":"SOYB","p":90,"t":31,"v":100},{"c":"SOYB","p":90,"t":33,"v":117},{"c":"SOYB","p":90,"t":34,"v":122},{"c":"SOYB","p":90,"t":36,"v":94},{"c":"SOYB","p":90,"t":37,"v":107},{"c":"SOYB","p":90,"t":38,"v":122},{"c":"SOYB","p":90,"t":39,"v":132},{"c":"SOYB","p":90,"t":41,"v":140},{"c":"SOYB","p":90,"t":42,"v":117},{"c":"SOYB","p":90,"t":43,"v":102},{"c":"SOYB","p":90,"t":44,"v":117},{"c":"SOYB","p":90,"t":46,"v":127},{"c":"SOYB","p":90,"t":47,"v":117},{"c":"SOYB","p":90,"t":48,"v":114},{"c":"SOYB","p":90,"t":49,"v":124},{"c":"SOYB","p":90,"t":51,"v":100},{"c":"SOYB","p":90,"t":53,"v":100},{"c":"SOYB","p":90,"t":54,"v":107},{"c":"SOYB","p":90,"t":56,"v":97},{"c":"SOYB","p":90,"t":57,"v":102},{"c":"SOYB","p":90,"t":58,"v":97},{"c":"SOYB","p":90,"t":59,"v":117},{"c":"SOYB","p":90,"t":60,"v":120},{"c":"SOYB","p":90,"t":61,"v":114},{"c":"SOYB","p":90,"t":62,"v":117},{"c":"SOYB","p":90,"t":64,"v":104},{"c":"SOYB","p":90,"t":65,"v":62},{"c":"SOYB","p":90,"t":67,"v":14},{"c":"SOYB","p":90,"t":69,"v":7},{"c":"SOYB","p":90,"t":71,"v":14},{"c":"SOYB","p":90,"t":72,"v":10},{"c":"SOYB","p":90,"t":73,"v":10},{"c":"SOYB","p":90,"t":76,"v":10},{"c":"SOYB","p":90,"t":77,"v":24},{"c":"SOYB","p":90,"t":78,"v":37},{"c":"SOYB","p":90,"t":79,"v":24},{"c":"SOYB","p":90,"t":81,"v":24},{"c":"SOYB","p":90,"t":83,"v":32},{"c":"SOYB","p":90,"t":84,"v":22},{"c":"SOYB","p":90,"t":86,"v":32},{"c":"SOYB","p":90,"t":87,"v":7},{"c":"SOYB","p":90,"t":88,"v":52},
      {"c":"SOYB","p":180,"t":0,"v":22},{"c":"SOYB","p":180,"t":3,"v":24},{"c":"SOYB","p":180,"t":5,"v":20},{"c":"SOYB","p":180,"t":8,"v":17},{"c":"SOYB","p":180,"t":10,"v":22},{"c":"SOYB","p":180,"t":13,"v":10},{"c":"SOYB","p":180,"t":15,"v":14},{"c":"SOYB","p":180,"t":18,"v":17},{"c":"SOYB","p":180,"t":20,"v":22},{"c":"SOYB","p":180,"t":23,"v":24},{"c":"SOYB","p":180,"t":25,"v":30},{"c":"SOYB","p":180,"t":28,"v":22},{"c":"SOYB","p":180,"t":30,"v":27},{"c":"SOYB","p":180,"t":33,"v":32},{"c":"SOYB","p":180,"t":35,"v":22},{"c":"SOYB","p":180,"t":38,"v":34},{"c":"SOYB","p":180,"t":40,"v":37},{"c":"SOYB","p":180,"t":43,"v":52},{"c":"SOYB","p":180,"t":45,"v":67},{"c":"SOYB","p":180,"t":48,"v":70},{"c":"SOYB","p":180,"t":50,"v":72},{"c":"SOYB","p":180,"t":53,"v":77},{"c":"SOYB","p":180,"t":55,"v":74},{"c":"SOYB","p":180,"t":58,"v":82},{"c":"SOYB","p":180,"t":60,"v":87},{"c":"SOYB","p":180,"t":63,"v":92},{"c":"SOYB","p":180,"t":65,"v":94},{"c":"SOYB","p":180,"t":68,"v":107},{"c":"SOYB","p":180,"t":70,"v":117},{"c":"SOYB","p":180,"t":73,"v":87},{"c":"SOYB","p":180,"t":75,"v":94},{"c":"SOYB","p":180,"t":78,"v":90},{"c":"SOYB","p":180,"t":80,"v":97},{"c":"SOYB","p":180,"t":83,"v":94},{"c":"SOYB","p":180,"t":88,"v":100},{"c":"SOYB","p":180,"t":93,"v":104},{"c":"SOYB","p":180,"t":98,"v":104},{"c":"SOYB","p":180,"t":103,"v":107},{"c":"SOYB","p":180,"t":108,"v":110},{"c":"SOYB","p":180,"t":110,"v":112},{"c":"SOYB","p":180,"t":113,"v":117},{"c":"SOYB","p":180,"t":115,"v":114},{"c":"SOYB","p":180,"t":118,"v":120},{"c":"SOYB","p":180,"t":120,"v":124},{"c":"SOYB","p":180,"t":123,"v":127},{"c":"SOYB","p":180,"t":125,"v":122},{"c":"SOYB","p":180,"t":128,"v":132},{"c":"SOYB","p":180,"t":130,"v":124},{"c":"SOYB","p":180,"t":133,"v":137},{"c":"SOYB","p":180,"t":135,"v":127},{"c":"SOYB","p":180,"t":138,"v":132},{"c":"SOYB","p":180,"t":140,"v":122},{"c":"SOYB","p":180,"t":143,"v":134},{"c":"SOYB","p":180,"t":145,"v":132},{"c":"SOYB","p":180,"t":148,"v":130},{"c":"SOYB","p":180,"t":150,"v":132},{"c":"SOYB","p":180,"t":152,"v":127},{"c":"SOYB","p":180,"t":154,"v":97},{"c":"SOYB","p":180,"t":158,"v":94},{"c":"SOYB","p":180,"t":162,"v":97},{"c":"SOYB","p":180,"t":165,"v":100},{"c":"SOYB","p":180,"t":168,"v":94},{"c":"SOYB","p":180,"t":170,"v":104},{"c":"SOYB","p":180,"t":173,"v":110},{"c":"SOYB","p":180,"t":174,"v":100},
      {"c":"SOYB","p":360,"t":0,"v":42},{"c":"SOYB","p":360,"t":5,"v":34},{"c":"SOYB","p":360,"t":10,"v":37},{"c":"SOYB","p":360,"t":15,"v":30},{"c":"SOYB","p":360,"t":20,"v":22},{"c":"SOYB","p":360,"t":25,"v":17},{"c":"SOYB","p":360,"t":30,"v":24},{"c":"SOYB","p":360,"t":35,"v":14},{"c":"SOYB","p":360,"t":40,"v":10},{"c":"SOYB","p":360,"t":45,"v":17},{"c":"SOYB","p":360,"t":50,"v":22},{"c":"SOYB","p":360,"t":55,"v":17},{"c":"SOYB","p":360,"t":60,"v":20},{"c":"SOYB","p":360,"t":65,"v":32},{"c":"SOYB","p":360,"t":70,"v":37},{"c":"SOYB","p":360,"t":75,"v":44},{"c":"SOYB","p":360,"t":80,"v":37},{"c":"SOYB","p":360,"t":85,"v":42},{"c":"SOYB","p":360,"t":90,"v":32},{"c":"SOYB","p":360,"t":95,"v":30},{"c":"SOYB","p":360,"t":100,"v":22},{"c":"SOYB","p":360,"t":105,"v":24},{"c":"SOYB","p":360,"t":110,"v":42},{"c":"SOYB","p":360,"t":115,"v":62},{"c":"SOYB","p":360,"t":120,"v":77},{"c":"SOYB","p":360,"t":125,"v":84},{"c":"SOYB","p":360,"t":130,"v":82},{"c":"SOYB","p":360,"t":135,"v":87},{"c":"SOYB","p":360,"t":140,"v":77},{"c":"SOYB","p":360,"t":145,"v":70},{"c":"SOYB","p":360,"t":150,"v":62},{"c":"SOYB","p":360,"t":155,"v":52},{"c":"SOYB","p":360,"t":160,"v":42},{"c":"SOYB","p":360,"t":165,"v":37},{"c":"SOYB","p":360,"t":170,"v":32},{"c":"SOYB","p":360,"t":175,"v":34},{"c":"SOYB","p":360,"t":180,"v":30},{"c":"SOYB","p":360,"t":185,"v":34},{"c":"SOYB","p":360,"t":190,"v":42},{"c":"SOYB","p":360,"t":195,"v":40},{"c":"SOYB","p":360,"t":200,"v":52},{"c":"SOYB","p":360,"t":205,"v":50},{"c":"SOYB","p":360,"t":210,"v":62},{"c":"SOYB","p":360,"t":215,"v":72},{"c":"SOYB","p":360,"t":220,"v":82},{"c":"SOYB","p":360,"t":225,"v":90},{"c":"SOYB","p":360,"t":230,"v":92},{"c":"SOYB","p":360,"t":235,"v":97},{"c":"SOYB","p":360,"t":240,"v":120},{"c":"SOYB","p":360,"t":245,"v":107},{"c":"SOYB","p":360,"t":250,"v":114},{"c":"SOYB","p":360,"t":255,"v":110},{"c":"SOYB","p":360,"t":260,"v":112},{"c":"SOYB","p":360,"t":265,"v":114},{"c":"SOYB","p":360,"t":270,"v":117},{"c":"SOYB","p":360,"t":275,"v":112},{"c":"SOYB","p":360,"t":280,"v":120},{"c":"SOYB","p":360,"t":285,"v":117},{"c":"SOYB","p":360,"t":290,"v":122},{"c":"SOYB","p":360,"t":295,"v":124},{"c":"SOYB","p":360,"t":300,"v":130},{"c":"SOYB","p":360,"t":305,"v":134},{"c":"SOYB","p":360,"t":310,"v":127},{"c":"SOYB","p":360,"t":315,"v":137},{"c":"SOYB","p":360,"t":320,"v":132},{"c":"SOYB","p":360,"t":325,"v":130},{"c":"SOYB","p":360,"t":330,"v":104},{"c":"SOYB","p":360,"t":335,"v":100},{"c":"SOYB","p":360,"t":340,"v":102},{"c":"SOYB","p":360,"t":345,"v":112},{"c":"SOYB","p":360,"t":350,"v":100},

      {"c":"WEAT","p":14,"t":0,"v":53},{"c":"WEAT","p":14,"t":1,"v":80},{"c":"WEAT","p":14,"t":2,"v":138},{"c":"WEAT","p":14,"t":3,"v":103},{"c":"WEAT","p":14,"t":7,"v":78},{"c":"WEAT","p":14,"t":8,"v":38},{"c":"WEAT","p":14,"t":9,"v":30},{"c":"WEAT","p":14,"t":10,"v":56},{"c":"WEAT","p":14,"t":11,"v":6},
      {"c":"WEAT","p":30,"t":0,"v":136},{"c":"WEAT","p":30,"t":1,"v":103},{"c":"WEAT","p":30,"t":4,"v":98},{"c":"WEAT","p":30,"t":5,"v":83},{"c":"WEAT","p":30,"t":6,"v":43},{"c":"WEAT","p":30,"t":8,"v":13},{"c":"WEAT","p":30,"t":11,"v":20},{"c":"WEAT","p":30,"t":12,"v":26},{"c":"WEAT","p":30,"t":13,"v":33},{"c":"WEAT","p":30,"t":14,"v":26},{"c":"WEAT","p":30,"t":15,"v":18},{"c":"WEAT","p":30,"t":17,"v":26},{"c":"WEAT","p":30,"t":18,"v":36},{"c":"WEAT","p":30,"t":19,"v":56},{"c":"WEAT","p":30,"t":20,"v":86},{"c":"WEAT","p":30,"t":21,"v":68},{"c":"WEAT","p":30,"t":23,"v":63},{"c":"WEAT","p":30,"t":25,"v":53},{"c":"WEAT","p":30,"t":26,"v":26},{"c":"WEAT","p":30,"t":27,"v":20},{"c":"WEAT","p":30,"t":28,"v":36},{"c":"WEAT","p":30,"t":29,"v":6},
      {"c":"WEAT","p":90,"t":0,"v":68},{"c":"WEAT","p":90,"t":1,"v":70},{"c":"WEAT","p":90,"t":2,"v":43},{"c":"WEAT","p":90,"t":4,"v":43},{"c":"WEAT","p":90,"t":7,"v":43},{"c":"WEAT","p":90,"t":8,"v":38},{"c":"WEAT","p":90,"t":9,"v":18},{"c":"WEAT","p":90,"t":11,"v":6},{"c":"WEAT","p":90,"t":12,"v":13},{"c":"WEAT","p":90,"t":13,"v":23},{"c":"WEAT","p":90,"t":14,"v":38},{"c":"WEAT","p":90,"t":16,"v":30},{"c":"WEAT","p":90,"t":17,"v":40},{"c":"WEAT","p":90,"t":18,"v":38},{"c":"WEAT","p":90,"t":19,"v":36},{"c":"WEAT","p":90,"t":21,"v":46},{"c":"WEAT","p":90,"t":22,"v":40},{"c":"WEAT","p":90,"t":23,"v":50},{"c":"WEAT","p":90,"t":24,"v":53},{"c":"WEAT","p":90,"t":26,"v":60},{"c":"WEAT","p":90,"t":27,"v":46},{"c":"WEAT","p":90,"t":28,"v":58},{"c":"WEAT","p":90,"t":29,"v":110},{"c":"WEAT","p":90,"t":30,"v":90},{"c":"WEAT","p":90,"t":31,"v":103},{"c":"WEAT","p":90,"t":32,"v":93},{"c":"WEAT","p":90,"t":33,"v":88},{"c":"WEAT","p":90,"t":34,"v":96},{"c":"WEAT","p":90,"t":36,"v":73},{"c":"WEAT","p":90,"t":37,"v":58},{"c":"WEAT","p":90,"t":38,"v":70},{"c":"WEAT","p":90,"t":39,"v":78},{"c":"WEAT","p":90,"t":40,"v":90},{"c":"WEAT","p":90,"t":42,"v":108},{"c":"WEAT","p":90,"t":43,"v":138},{"c":"WEAT","p":90,"t":44,"v":123},{"c":"WEAT","p":90,"t":45,"v":100},{"c":"WEAT","p":90,"t":46,"v":113},{"c":"WEAT","p":90,"t":47,"v":130},{"c":"WEAT","p":90,"t":48,"v":120},{"c":"WEAT","p":90,"t":49,"v":108},{"c":"WEAT","p":90,"t":51,"v":103},{"c":"WEAT","p":90,"t":52,"v":98},{"c":"WEAT","p":90,"t":53,"v":93},{"c":"WEAT","p":90,"t":54,"v":88},{"c":"WEAT","p":90,"t":56,"v":86},{"c":"WEAT","p":90,"t":57,"v":78},{"c":"WEAT","p":90,"t":58,"v":70},{"c":"WEAT","p":90,"t":59,"v":60},{"c":"WEAT","p":90,"t":61,"v":50},{"c":"WEAT","p":90,"t":62,"v":43},{"c":"WEAT","p":90,"t":64,"v":26},{"c":"WEAT","p":90,"t":66,"v":26},{"c":"WEAT","p":90,"t":68,"v":28},{"c":"WEAT","p":90,"t":70,"v":33},{"c":"WEAT","p":90,"t":72,"v":40},{"c":"WEAT","p":90,"t":73,"v":43},{"c":"WEAT","p":90,"t":74,"v":33},{"c":"WEAT","p":90,"t":76,"v":28},{"c":"WEAT","p":90,"t":78,"v":38},{"c":"WEAT","p":90,"t":79,"v":38},{"c":"WEAT","p":90,"t":81,"v":28},{"c":"WEAT","p":90,"t":83,"v":23},{"c":"WEAT","p":90,"t":84,"v":20},{"c":"WEAT","p":90,"t":86,"v":33},{"c":"WEAT","p":90,"t":87,"v":26},{"c":"WEAT","p":90,"t":88,"v":20},
      {"c":"WEAT","p":180,"t":0,"v":6},{"c":"WEAT","p":180,"t":5,"v":13},{"c":"WEAT","p":180,"t":10,"v":10},{"c":"WEAT","p":180,"t":15,"v":16},{"c":"WEAT","p":180,"t":20,"v":13},{"c":"WEAT","p":180,"t":25,"v":20},{"c":"WEAT","p":180,"t":30,"v":18},{"c":"WEAT","p":180,"t":35,"v":26},{"c":"WEAT","p":180,"t":40,"v":23},{"c":"WEAT","p":180,"t":45,"v":28},{"c":"WEAT","p":180,"t":50,"v":38},{"c":"WEAT","p":180,"t":54,"v":28},{"c":"WEAT","p":180,"t":57,"v":40},{"c":"WEAT","p":180,"t":60,"v":56},{"c":"WEAT","p":180,"t":63,"v":53},{"c":"WEAT","p":180,"t":65,"v":73},{"c":"WEAT","p":180,"t":68,"v":88},{"c":"WEAT","p":180,"t":70,"v":78},{"c":"WEAT","p":180,"t":73,"v":93},{"c":"WEAT","p":180,"t":75,"v":73},{"c":"WEAT","p":180,"t":78,"v":88},{"c":"WEAT","p":180,"t":80,"v":78},{"c":"WEAT","p":180,"t":83,"v":83},{"c":"WEAT","p":180,"t":85,"v":73},{"c":"WEAT","p":180,"t":88,"v":78},{"c":"WEAT","p":180,"t":90,"v":83},{"c":"WEAT","p":180,"t":93,"v":73},{"c":"WEAT","p":180,"t":95,"v":70},{"c":"WEAT","p":180,"t":98,"v":58},{"c":"WEAT","p":180,"t":100,"v":50},{"c":"WEAT","p":180,"t":103,"v":63},{"c":"WEAT","p":180,"t":105,"v":70},{"c":"WEAT","p":180,"t":108,"v":76},{"c":"WEAT","p":180,"t":113,"v":88},{"c":"WEAT","p":180,"t":115,"v":110},{"c":"WEAT","p":180,"t":118,"v":98},{"c":"WEAT","p":180,"t":120,"v":93},{"c":"WEAT","p":180,"t":123,"v":113},{"c":"WEAT","p":180,"t":125,"v":98},{"c":"WEAT","p":180,"t":128,"v":88},{"c":"WEAT","p":180,"t":130,"v":118},{"c":"WEAT","p":180,"t":133,"v":133},{"c":"WEAT","p":180,"t":135,"v":120},{"c":"WEAT","p":180,"t":138,"v":128},{"c":"WEAT","p":180,"t":140,"v":113},{"c":"WEAT","p":180,"t":143,"v":108},{"c":"WEAT","p":180,"t":145,"v":100},{"c":"WEAT","p":180,"t":148,"v":93},{"c":"WEAT","p":180,"t":150,"v":73},{"c":"WEAT","p":180,"t":153,"v":63},{"c":"WEAT","p":180,"t":157,"v":63},{"c":"WEAT","p":180,"t":160,"v":70},{"c":"WEAT","p":180,"t":164,"v":68},{"c":"WEAT","p":180,"t":167,"v":78},{"c":"WEAT","p":180,"t":169,"v":70},{"c":"WEAT","p":180,"t":172,"v":73},{"c":"WEAT","p":180,"t":174,"v":63},
      {"c":"WEAT","p":360,"t":0,"v":83},{"c":"WEAT","p":360,"t":5,"v":73},{"c":"WEAT","p":360,"t":10,"v":68},{"c":"WEAT","p":360,"t":15,"v":70},{"c":"WEAT","p":360,"t":20,"v":60},{"c":"WEAT","p":360,"t":25,"v":46},{"c":"WEAT","p":360,"t":30,"v":43},{"c":"WEAT","p":360,"t":35,"v":36},{"c":"WEAT","p":360,"t":40,"v":40},{"c":"WEAT","p":360,"t":45,"v":36},{"c":"WEAT","p":360,"t":50,"v":33},{"c":"WEAT","p":360,"t":55,"v":30},{"c":"WEAT","p":360,"t":60,"v":36},{"c":"WEAT","p":360,"t":65,"v":28},{"c":"WEAT","p":360,"t":70,"v":26},{"c":"WEAT","p":360,"t":75,"v":23},{"c":"WEAT","p":360,"t":80,"v":18},{"c":"WEAT","p":360,"t":85,"v":13},{"c":"WEAT","p":360,"t":90,"v":18},{"c":"WEAT","p":360,"t":95,"v":16},{"c":"WEAT","p":360,"t":100,"v":20},{"c":"WEAT","p":360,"t":105,"v":13},{"c":"WEAT","p":360,"t":110,"v":23},{"c":"WEAT","p":360,"t":115,"v":33},{"c":"WEAT","p":360,"t":120,"v":50},{"c":"WEAT","p":360,"t":125,"v":43},{"c":"WEAT","p":360,"t":130,"v":48},{"c":"WEAT","p":360,"t":135,"v":38},{"c":"WEAT","p":360,"t":140,"v":33},{"c":"WEAT","p":360,"t":145,"v":26},{"c":"WEAT","p":360,"t":150,"v":23},{"c":"WEAT","p":360,"t":155,"v":20},{"c":"WEAT","p":360,"t":160,"v":13},{"c":"WEAT","p":360,"t":165,"v":13},{"c":"WEAT","p":360,"t":170,"v":10},{"c":"WEAT","p":360,"t":175,"v":18},{"c":"WEAT","p":360,"t":180,"v":13},{"c":"WEAT","p":360,"t":185,"v":20},{"c":"WEAT","p":360,"t":190,"v":18},{"c":"WEAT","p":360,"t":195,"v":23},{"c":"WEAT","p":360,"t":200,"v":30},{"c":"WEAT","p":360,"t":205,"v":20},{"c":"WEAT","p":360,"t":210,"v":28},{"c":"WEAT","p":360,"t":215,"v":30},{"c":"WEAT","p":360,"t":220,"v":33},{"c":"WEAT","p":360,"t":225,"v":38},{"c":"WEAT","p":360,"t":230,"v":56},{"c":"WEAT","p":360,"t":235,"v":68},{"c":"WEAT","p":360,"t":240,"v":83},{"c":"WEAT","p":360,"t":245,"v":73},{"c":"WEAT","p":360,"t":250,"v":90},{"c":"WEAT","p":360,"t":255,"v":78},{"c":"WEAT","p":360,"t":260,"v":73},{"c":"WEAT","p":360,"t":265,"v":88},{"c":"WEAT","p":360,"t":270,"v":68},{"c":"WEAT","p":360,"t":275,"v":73},{"c":"WEAT","p":360,"t":280,"v":93},{"c":"WEAT","p":360,"t":285,"v":98},{"c":"WEAT","p":360,"t":290,"v":88},{"c":"WEAT","p":360,"t":295,"v":113},{"c":"WEAT","p":360,"t":300,"v":123},{"c":"WEAT","p":360,"t":305,"v":133},{"c":"WEAT","p":360,"t":308,"v":120},{"c":"WEAT","p":360,"t":312,"v":108},{"c":"WEAT","p":360,"t":317,"v":88},{"c":"WEAT","p":360,"t":323,"v":68},{"c":"WEAT","p":360,"t":327,"v":73},{"c":"WEAT","p":360,"t":333,"v":88},{"c":"WEAT","p":360,"t":337,"v":78},{"c":"WEAT","p":360,"t":342,"v":73},{"c":"WEAT","p":360,"t":347,"v":63},{"c":"WEAT","p":360,"t":350,"v":66},

      {"c":"URA","p":14,"t":0,"v":138},{"c":"URA","p":14,"t":1,"v":132},{"c":"URA","p":14,"t":2,"v":112},{"c":"URA","p":14,"t":3,"v":129},{"c":"URA","p":14,"t":7,"v":99},{"c":"URA","p":14,"t":8,"v":64},{"c":"URA","p":14,"t":9,"v":36},{"c":"URA","p":14,"t":10,"v":14},{"c":"URA","p":14,"t":11,"v":4},
      {"c":"URA","p":30,"t":0,"v":106},{"c":"URA","p":30,"t":4,"v":104},{"c":"URA","p":30,"t":5,"v":136},{"c":"URA","p":30,"t":6,"v":106},{"c":"URA","p":30,"t":7,"v":102},{"c":"URA","p":30,"t":8,"v":42},{"c":"URA","p":30,"t":11,"v":46},{"c":"URA","p":30,"t":12,"v":34},{"c":"URA","p":30,"t":13,"v":6},{"c":"URA","p":30,"t":14,"v":34},{"c":"URA","p":30,"t":15,"v":44},{"c":"URA","p":30,"t":17,"v":62},{"c":"URA","p":30,"t":18,"v":74},{"c":"URA","p":30,"t":19,"v":72},{"c":"URA","p":30,"t":20,"v":62},{"c":"URA","p":30,"t":21,"v":69},{"c":"URA","p":30,"t":25,"v":59},{"c":"URA","p":30,"t":26,"v":49},{"c":"URA","p":30,"t":27,"v":34},{"c":"URA","p":30,"t":28,"v":26},{"c":"URA","p":30,"t":29,"v":22},
      {"c":"URA","p":90,"t":0,"v":34},{"c":"URA","p":90,"t":1,"v":52},{"c":"URA","p":90,"t":2,"v":62},{"c":"URA","p":90,"t":4,"v":59},{"c":"URA","p":90,"t":6,"v":56},{"c":"URA","p":90,"t":7,"v":62},{"c":"URA","p":90,"t":8,"v":72},{"c":"URA","p":90,"t":9,"v":79},{"c":"URA","p":90,"t":11,"v":84},{"c":"URA","p":90,"t":12,"v":82},{"c":"URA","p":90,"t":13,"v":89},{"c":"URA","p":90,"t":14,"v":96},{"c":"URA","p":90,"t":16,"v":109},{"c":"URA","p":90,"t":17,"v":119},{"c":"URA","p":90,"t":18,"v":119},{"c":"URA","p":90,"t":19,"v":114},{"c":"URA","p":90,"t":21,"v":122},{"c":"URA","p":90,"t":22,"v":134},{"c":"URA","p":90,"t":23,"v":104},{"c":"URA","p":90,"t":24,"v":124},{"c":"URA","p":90,"t":25,"v":114},{"c":"URA","p":90,"t":26,"v":126},{"c":"URA","p":90,"t":27,"v":109},{"c":"URA","p":90,"t":28,"v":114},{"c":"URA","p":90,"t":29,"v":102},{"c":"URA","p":90,"t":30,"v":109},{"c":"URA","p":90,"t":31,"v":119},{"c":"URA","p":90,"t":32,"v":109},{"c":"URA","p":90,"t":33,"v":106},{"c":"URA","p":90,"t":34,"v":119},{"c":"URA","p":90,"t":35,"v":109},{"c":"URA","p":90,"t":36,"v":136},{"c":"URA","p":90,"t":37,"v":114},{"c":"URA","p":90,"t":38,"v":106},{"c":"URA","p":90,"t":39,"v":109},{"c":"URA","p":90,"t":40,"v":116},{"c":"URA","p":90,"t":42,"v":129},{"c":"URA","p":90,"t":43,"v":84},{"c":"URA","p":90,"t":44,"v":74},{"c":"URA","p":90,"t":46,"v":62},{"c":"URA","p":90,"t":47,"v":56},{"c":"URA","p":90,"t":48,"v":52},{"c":"URA","p":90,"t":49,"v":59},{"c":"URA","p":90,"t":51,"v":64},{"c":"URA","p":90,"t":52,"v":69},{"c":"URA","p":90,"t":53,"v":72},{"c":"URA","p":90,"t":54,"v":74},{"c":"URA","p":90,"t":56,"v":74},{"c":"URA","p":90,"t":57,"v":76},{"c":"URA","p":90,"t":58,"v":74},{"c":"URA","p":90,"t":59,"v":74},{"c":"URA","p":90,"t":61,"v":79},{"c":"URA","p":90,"t":62,"v":94},{"c":"URA","p":90,"t":63,"v":72},{"c":"URA","p":90,"t":64,"v":74},{"c":"URA","p":90,"t":65,"v":64},{"c":"URA","p":90,"t":66,"v":64},{"c":"URA","p":90,"t":67,"v":44},{"c":"URA","p":90,"t":68,"v":32},{"c":"URA","p":90,"t":69,"v":19},{"c":"URA","p":90,"t":70,"v":26},{"c":"URA","p":90,"t":72,"v":34},{"c":"URA","p":90,"t":73,"v":39},{"c":"URA","p":90,"t":74,"v":49},{"c":"URA","p":90,"t":76,"v":52},{"c":"URA","p":90,"t":77,"v":49},{"c":"URA","p":90,"t":78,"v":49},{"c":"URA","p":90,"t":79,"v":46},{"c":"URA","p":90,"t":81,"v":46},{"c":"URA","p":90,"t":82,"v":42},{"c":"URA","p":90,"t":83,"v":39},{"c":"URA","p":90,"t":84,"v":44},{"c":"URA","p":90,"t":86,"v":34},{"c":"URA","p":90,"t":88,"v":22},
      {"c":"URA","p":180,"t":0,"v":9},{"c":"URA","p":180,"t":3,"v":29},{"c":"URA","p":180,"t":5,"v":44},{"c":"URA","p":180,"t":8,"v":59},{"c":"URA","p":180,"t":10,"v":64},{"c":"URA","p":180,"t":13,"v":74},{"c":"URA","p":180,"t":15,"v":79},{"c":"URA","p":180,"t":18,"v":89},{"c":"URA","p":180,"t":20,"v":84},{"c":"URA","p":180,"t":23,"v":99},{"c":"URA","p":180,"t":25,"v":96},{"c":"URA","p":180,"t":27,"v":109},{"c":"URA","p":180,"t":29,"v":134},{"c":"URA","p":180,"t":30,"v":106},{"c":"URA","p":180,"t":33,"v":94},{"c":"URA","p":180,"t":35,"v":84},{"c":"URA","p":180,"t":37,"v":54},{"c":"URA","p":180,"t":39,"v":74},{"c":"URA","p":180,"t":41,"v":69},{"c":"URA","p":180,"t":43,"v":84},{"c":"URA","p":180,"t":45,"v":82},{"c":"URA","p":180,"t":48,"v":74},{"c":"URA","p":180,"t":50,"v":84},{"c":"URA","p":180,"t":53,"v":82},{"c":"URA","p":180,"t":55,"v":89},{"c":"URA","p":180,"t":58,"v":94},{"c":"URA","p":180,"t":60,"v":92},{"c":"URA","p":180,"t":63,"v":64},{"c":"URA","p":180,"t":65,"v":74},{"c":"URA","p":180,"t":68,"v":59},{"c":"URA","p":180,"t":70,"v":49},{"c":"URA","p":180,"t":73,"v":56},{"c":"URA","p":180,"t":75,"v":49},{"c":"URA","p":180,"t":78,"v":44},{"c":"URA","p":180,"t":80,"v":39},{"c":"URA","p":180,"t":83,"v":46},{"c":"URA","p":180,"t":85,"v":34},{"c":"URA","p":180,"t":88,"v":29},{"c":"URA","p":180,"t":90,"v":36},{"c":"URA","p":180,"t":93,"v":39},{"c":"URA","p":180,"t":95,"v":49},{"c":"URA","p":180,"t":98,"v":69},{"c":"URA","p":180,"t":100,"v":79},{"c":"URA","p":180,"t":103,"v":84},{"c":"URA","p":180,"t":105,"v":99},{"c":"URA","p":180,"t":108,"v":104},{"c":"URA","p":180,"t":110,"v":94},{"c":"URA","p":180,"t":113,"v":106},{"c":"URA","p":180,"t":115,"v":89},{"c":"URA","p":180,"t":118,"v":102},{"c":"URA","p":180,"t":120,"v":104},{"c":"URA","p":180,"t":123,"v":96},{"c":"URA","p":180,"t":125,"v":109},{"c":"URA","p":180,"t":128,"v":84},{"c":"URA","p":180,"t":130,"v":112},{"c":"URA","p":180,"t":133,"v":79},{"c":"URA","p":180,"t":135,"v":64},{"c":"URA","p":180,"t":138,"v":44},{"c":"URA","p":180,"t":140,"v":49},{"c":"URA","p":180,"t":143,"v":54},{"c":"URA","p":180,"t":145,"v":69},{"c":"URA","p":180,"t":148,"v":74},{"c":"URA","p":180,"t":150,"v":64},{"c":"URA","p":180,"t":153,"v":54},{"c":"URA","p":180,"t":155,"v":26},{"c":"URA","p":180,"t":158,"v":14},{"c":"URA","p":180,"t":160,"v":34},{"c":"URA","p":180,"t":163,"v":46},{"c":"URA","p":180,"t":165,"v":39},{"c":"URA","p":180,"t":168,"v":39},{"c":"URA","p":180,"t":170,"v":29},{"c":"URA","p":180,"t":173,"v":19},{"c":"URA","p":180,"t":174,"v":16},
      {"c":"URA","p":360,"t":0,"v":9},{"c":"URA","p":360,"t":5,"v":16},{"c":"URA","p":360,"t":10,"v":29},{"c":"URA","p":360,"t":15,"v":22},{"c":"URA","p":360,"t":20,"v":32},{"c":"URA","p":360,"t":25,"v":24},{"c":"URA","p":360,"t":30,"v":26},{"c":"URA","p":360,"t":35,"v":19},{"c":"URA","p":360,"t":40,"v":29},{"c":"URA","p":360,"t":45,"v":6},{"c":"URA","p":360,"t":50,"v":22},{"c":"URA","p":360,"t":55,"v":26},{"c":"URA","p":360,"t":60,"v":29},{"c":"URA","p":360,"t":65,"v":34},{"c":"URA","p":360,"t":70,"v":49},{"c":"URA","p":360,"t":75,"v":59},{"c":"URA","p":360,"t":80,"v":74},{"c":"URA","p":360,"t":85,"v":69},{"c":"URA","p":360,"t":90,"v":84},{"c":"URA","p":360,"t":95,"v":102},{"c":"URA","p":360,"t":100,"v":119},{"c":"URA","p":360,"t":105,"v":94},{"c":"URA","p":360,"t":110,"v":84},{"c":"URA","p":360,"t":115,"v":104},{"c":"URA","p":360,"t":120,"v":74},{"c":"URA","p":360,"t":125,"v":66},{"c":"URA","p":360,"t":130,"v":76},{"c":"URA","p":360,"t":135,"v":64},{"c":"URA","p":360,"t":140,"v":74},{"c":"URA","p":360,"t":145,"v":46},{"c":"URA","p":360,"t":150,"v":62},{"c":"URA","p":360,"t":155,"v":74},{"c":"URA","p":360,"t":160,"v":52},{"c":"URA","p":360,"t":165,"v":64},{"c":"URA","p":360,"t":170,"v":52},{"c":"URA","p":360,"t":175,"v":62},{"c":"URA","p":360,"t":180,"v":94},{"c":"URA","p":360,"t":185,"v":99},{"c":"URA","p":360,"t":190,"v":109},{"c":"URA","p":360,"t":195,"v":106},{"c":"URA","p":360,"t":200,"v":124},{"c":"URA","p":360,"t":203,"v":139},{"c":"URA","p":360,"t":207,"v":109},{"c":"URA","p":360,"t":210,"v":94},{"c":"URA","p":360,"t":215,"v":102},{"c":"URA","p":360,"t":220,"v":86},{"c":"URA","p":360,"t":225,"v":94},{"c":"URA","p":360,"t":230,"v":74},{"c":"URA","p":360,"t":235,"v":82},{"c":"URA","p":360,"t":240,"v":69},{"c":"URA","p":360,"t":245,"v":62},{"c":"URA","p":360,"t":250,"v":74},{"c":"URA","p":360,"t":255,"v":62},{"c":"URA","p":360,"t":260,"v":69},{"c":"URA","p":360,"t":265,"v":79},{"c":"URA","p":360,"t":270,"v":64},{"c":"URA","p":360,"t":275,"v":84},{"c":"URA","p":360,"t":280,"v":104},{"c":"URA","p":360,"t":285,"v":109},{"c":"URA","p":360,"t":290,"v":102},{"c":"URA","p":360,"t":295,"v":114},{"c":"URA","p":360,"t":300,"v":99},{"c":"URA","p":360,"t":305,"v":119},{"c":"URA","p":360,"t":310,"v":102},{"c":"URA","p":360,"t":315,"v":74},{"c":"URA","p":360,"t":320,"v":84},{"c":"URA","p":360,"t":325,"v":69},{"c":"URA","p":360,"t":330,"v":56},{"c":"URA","p":360,"t":335,"v":74},{"c":"URA","p":360,"t":340,"v":62},{"c":"URA","p":360,"t":345,"v":52},{"c":"URA","p":360,"t":350,"v":39}
    ]
  },
  "vconcat": [
    {
      "width": 882,
      "height": 22,
      "data": {"name": "header"},
      "encoding": {
        "x": {"field": "col", "type": "nominal", "axis": null, "scale": {"domain": ["A", "B", "14", "30", "90", "180", "360"], "paddingInner": 0, "paddingOuter": 0}}
      },
      "layer": [
        {"mark": {"type": "rect", "fill": "white", "stroke": "#e2e2e2", "strokeWidth": 1}},
        {
          "transform": [{"filter": "datum.col != 'A'"}],
          "mark": {"type": "rect", "fill": "black"},
          "encoding": {
            "y": {"datum": 0, "type": "quantitative", "axis": null, "scale": {"domain": [0, 1]}},
            "y2": {"datum": 0.09}
          }
        },
        {
          "transform": [{"filter": "datum.col == 'B'"}],
          "mark": {"type": "text", "align": "left", "baseline": "alphabetic", "dx": 4, "dy": 5, "color": "black"},
          "encoding": {
            "x": {"field": "col", "type": "nominal", "bandPosition": 0},
            "text": {"field": "label"}
          }
        },
        {
          "transform": [{"filter": "datum.col != 'A' && datum.col != 'B'"}],
          "mark": {"type": "text", "align": "right", "baseline": "alphabetic", "dx": -4, "dy": 5, "color": "black"},
          "encoding": {
            "x": {"field": "col", "type": "nominal", "bandPosition": 1},
            "text": {"field": "label"}
          }
        }
      ]
    },
    {
      "spacing": 0,
      "bounds": "flush",
      "hconcat": [
        {
          "width": 252,
          "height": 520,
          "data": {"name": "table"},
          "transform": [{"fold": ["A", "B"], "as": ["col", "txt"]}],
          "encoding": {
            "x": {"field": "col", "type": "nominal", "axis": null, "scale": {"domain": ["A", "B"], "paddingInner": 0, "paddingOuter": 0}},
            "y": {"field": "r", "type": "ordinal", "axis": null, "scale": {"paddingInner": 0, "paddingOuter": 0}}
          },
          "layer": [
            {
              "mark": {"type": "rect", "stroke": "#e2e2e2", "strokeWidth": 1},
              "encoding": {
                "fill": {"condition": {"test": "datum.col == 'A' && datum.chg > 0", "value": "#b7e1cd"}, "value": "white"}
              }
            },
            {
              "transform": [{"filter": "datum.kind == 'label'"}],
              "mark": {"type": "text", "align": "left", "baseline": "alphabetic", "dx": 4, "dy": -5, "color": "black"},
              "encoding": {
                "x": {"field": "col", "type": "nominal", "bandPosition": 0},
                "y": {"field": "r", "type": "ordinal", "bandPosition": 1},
                "text": {"field": "txt"}
              }
            },
            {
              "transform": [{"filter": "datum.kind == 'value' && !(datum.col == 'A' && datum.chg < 0)"}],
              "mark": {"type": "text", "align": "right", "baseline": "alphabetic", "dx": -4, "dy": -5, "color": "black"},
              "encoding": {
                "x": {"field": "col", "type": "nominal", "bandPosition": 1},
                "y": {"field": "r", "type": "ordinal", "bandPosition": 1},
                "text": {"field": "txt"}
              }
            },
            {
              "transform": [{"filter": "datum.kind == 'value' && datum.col == 'A' && datum.chg < 0"}],
              "mark": {"type": "text", "align": "right", "baseline": "alphabetic", "dx": -4, "dy": -5, "color": "#cc3128", "fontWeight": "bold"},
              "encoding": {
                "x": {"field": "col", "type": "nominal", "bandPosition": 1},
                "y": {"field": "r", "type": "ordinal", "bandPosition": 1},
                "text": {"field": "txt"}
              }
            }
          ]
        },
        {
          "data": {"name": "spark"},
          "facet": {
            "row": {"field": "c", "type": "nominal", "title": null, "header": {"labels": false}, "sort": ["IAU", "SLV", "CPER", "BNO", "USO", "UNG", "CORN", "SOYB", "WEAT", "URA"]},
            "column": {"field": "p", "type": "ordinal", "title": null, "header": {"labels": false}, "sort": [14, 30, 90, 180, 360]}
          },
          "spacing": {"row": 0, "column": 0},
          "bounds": "flush",
          "spec": {
            "width": 126,
            "height": 52,
            "mark": {"type": "line", "color": "#1f1f1f", "strokeWidth": 1.2},
            "encoding": {
              "x": {"field": "t", "type": "quantitative", "axis": null, "scale": {"zero": false, "nice": false, "padding": 4}},
              "y": {"field": "v", "type": "quantitative", "axis": null, "scale": {"zero": false, "nice": false, "padding": 4}}
            }
          },
          "resolve": {"scale": {"x": "independent", "y": "independent"}}
        }
      ]
    }
  ]
}
